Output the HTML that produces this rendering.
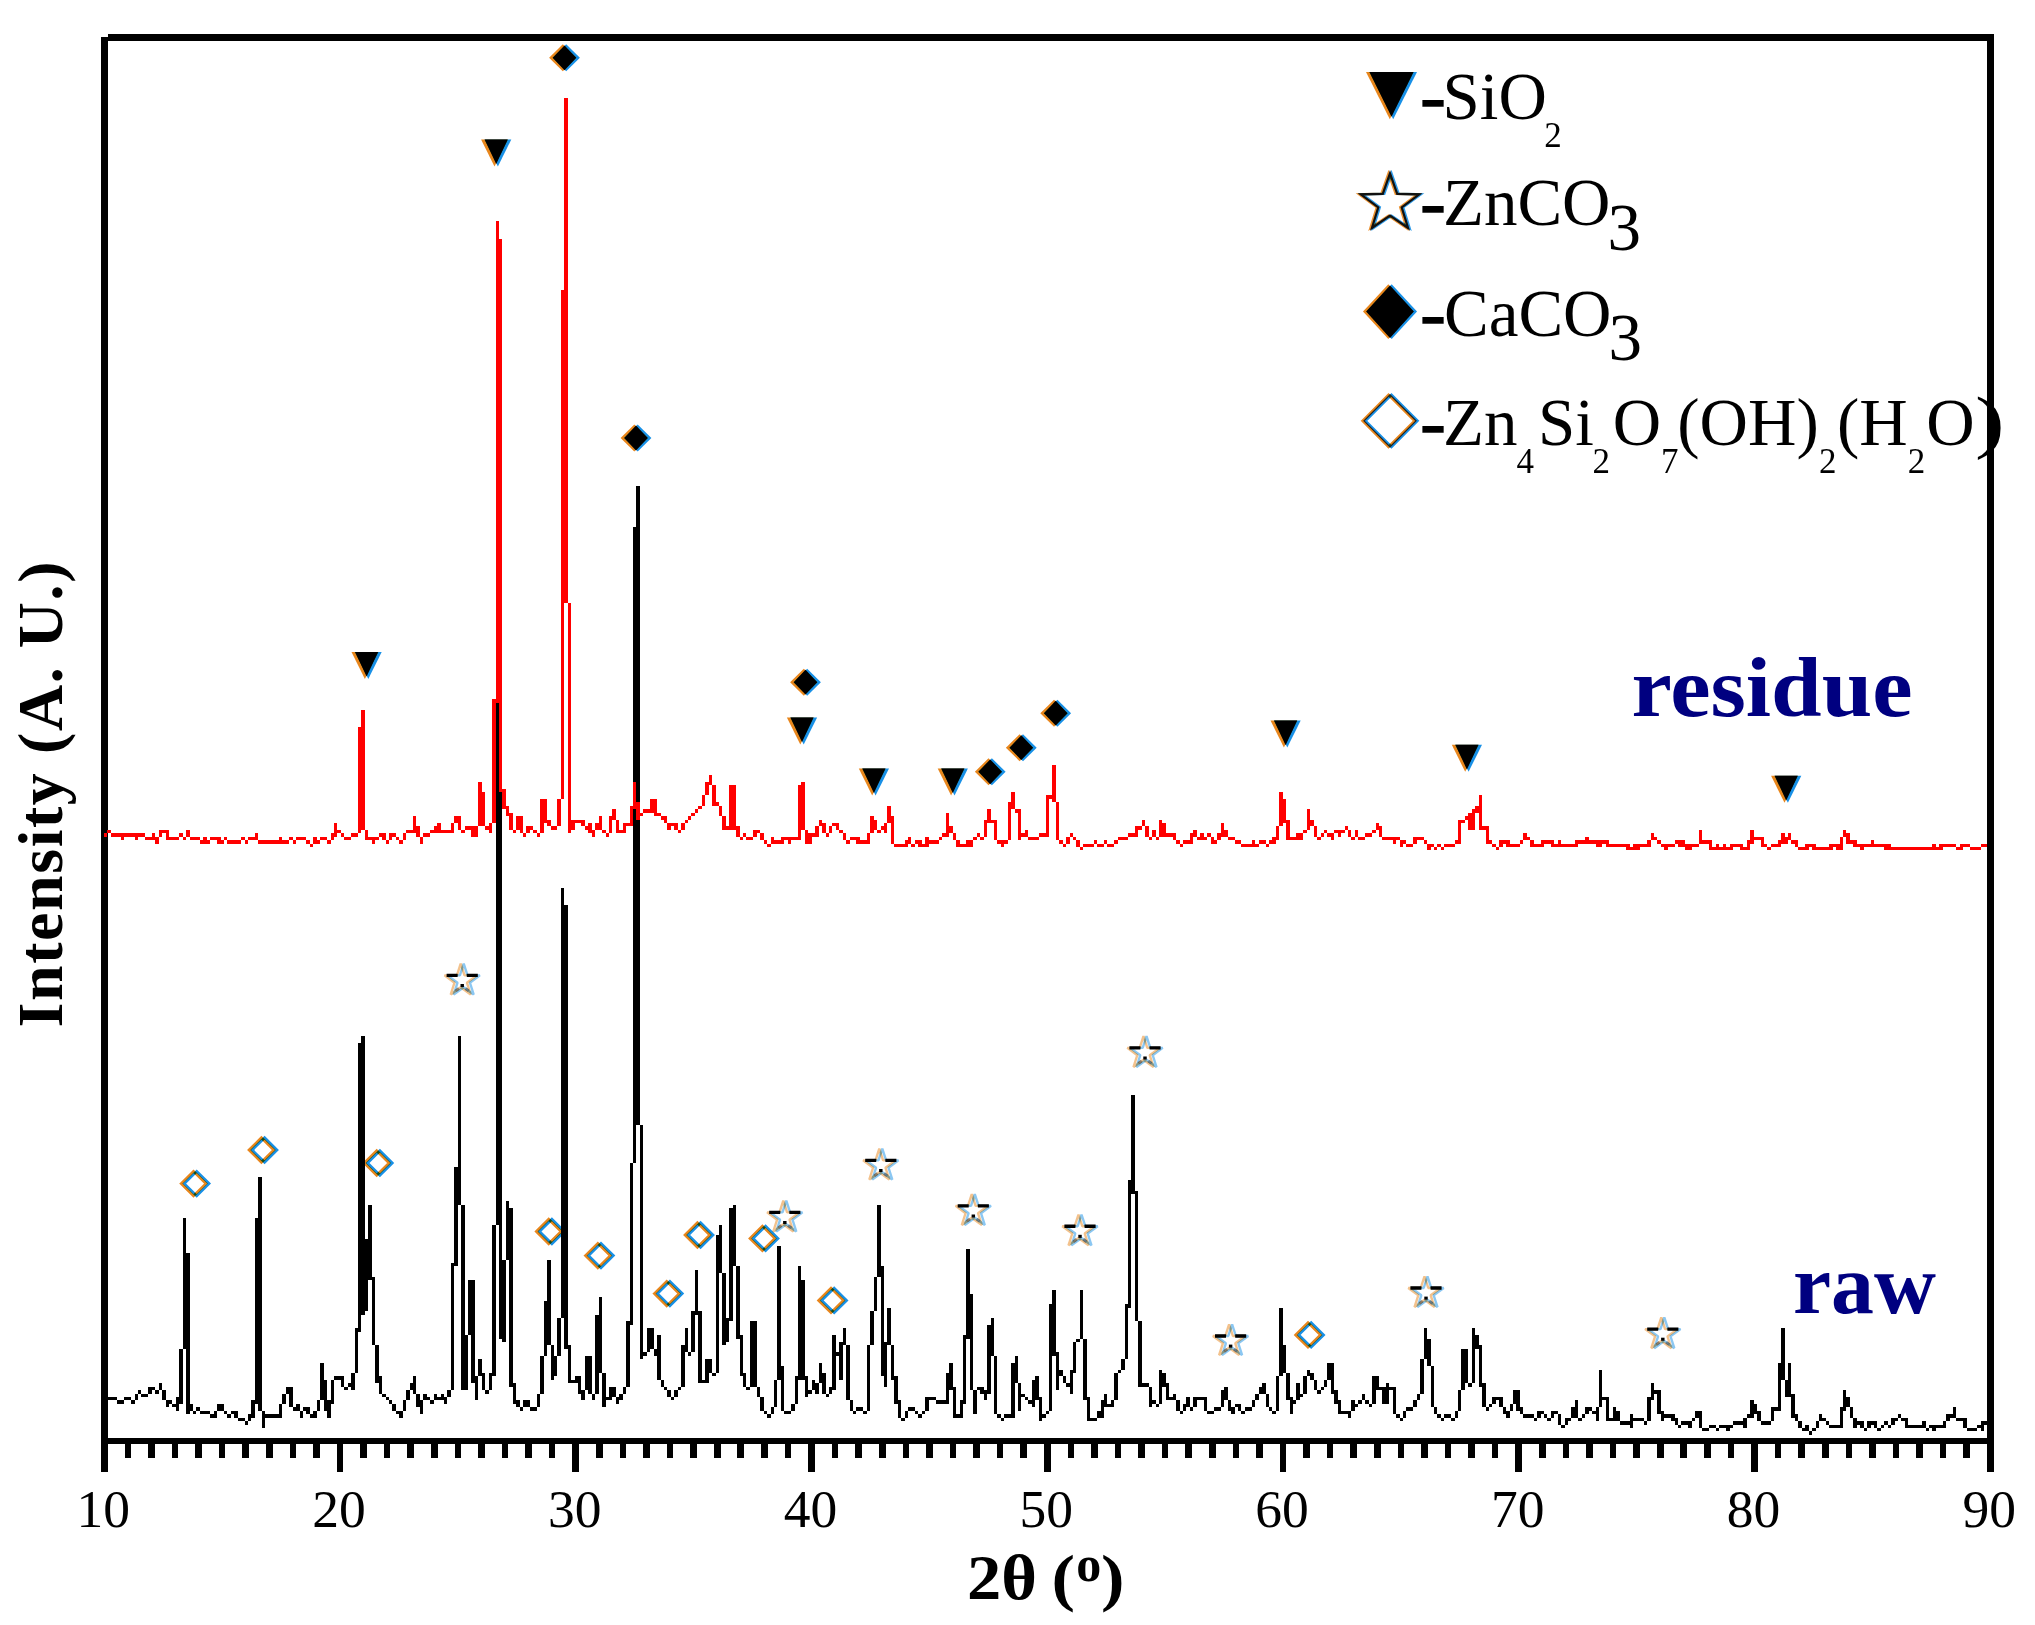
<!DOCTYPE html>
<html lang="en"><head><meta charset="utf-8"><title>XRD patterns: raw and residue</title>
<style>html,body{margin:0;padding:0;background:#fff}body{width:2035px;height:1625px;overflow:hidden}svg{display:block}text{font-family:"Liberation Serif",serif}.tk{font-size:53.5px;text-anchor:middle}.lg{font-size:67px}.sb{font-size:35px}.ax{font-size:64px;font-weight:bold}.nm{font-size:84px;font-weight:bold;fill:#000080}</style></head><body>
<svg width="2035" height="1625" viewBox="0 0 2035 1625">
<rect width="2035" height="1625" fill="#fff"/>
<g style="mix-blend-mode:multiply"><polygon fill="#e8861c" points="1366.0,72.0 1413.6,72.0 1389.8,119.2"/></g><g style="mix-blend-mode:multiply"><polygon fill="#1890e6" points="1369.4,72.0 1417.0,72.0 1393.2,119.2"/></g><polygon fill="#000" points="1369.5,72.0 1413.5,72.0 1391.5,116.8"/>
<g style="mix-blend-mode:multiply"><polygon fill="none" stroke-width="2.40" stroke-opacity="0.90" stroke-linejoin="miter" stroke="#e8861c" points="1388.5,173.4 1395.7,193.8 1417.8,194.3 1400.2,207.3 1406.6,228.0 1388.5,215.7 1370.4,228.0 1376.8,207.3 1359.2,194.3 1381.3,193.8"/></g><g style="mix-blend-mode:multiply"><polygon fill="none" stroke-width="2.40" stroke-opacity="0.90" stroke-linejoin="miter" stroke="#1890e6" points="1391.5,173.4 1398.7,193.8 1420.8,194.3 1403.2,207.3 1409.6,228.0 1391.5,215.7 1373.4,228.0 1379.8,207.3 1362.2,194.3 1384.3,193.8"/></g><polygon fill="none" stroke="#111" stroke-width="2.2" points="1390.0,173.4 1397.2,193.8 1419.3,194.3 1401.7,207.3 1408.1,228.0 1390.0,215.7 1371.9,228.0 1378.3,207.3 1360.7,194.3 1382.8,193.8"/>
<g style="mix-blend-mode:multiply"><polygon fill="#e8861c" points="1363.0,311.6 1388.3,284.2 1413.6,311.6 1388.3,339.0"/></g><g style="mix-blend-mode:multiply"><polygon fill="#1890e6" points="1366.4,311.6 1391.7,284.2 1417.0,311.6 1391.7,339.0"/></g><polygon fill="#000" points="1366.2,311.6 1390.0,285.4 1413.8,311.6 1390.0,337.9"/>
<g style="mix-blend-mode:multiply"><polygon fill="none" stroke-width="2.60" stroke-opacity="1.00" stroke-linejoin="miter" stroke="#e8861c" points="1362.5,420.8 1388.5,394.8 1414.5,420.8 1388.5,446.8"/></g><g style="mix-blend-mode:multiply"><polygon fill="none" stroke-width="2.60" stroke-opacity="1.00" stroke-linejoin="miter" stroke="#1890e6" points="1365.5,420.8 1391.5,394.8 1417.5,420.8 1391.5,446.8"/></g><polygon fill="none" stroke="#222" stroke-width="1.2" points="1364.0,420.8 1390.0,394.8 1416.0,420.8 1390.0,446.8"/>
<g fill="#000">
<text class="lg" x="1420.5" y="119.2" stroke="#000" stroke-width="1.6" textLength="25" lengthAdjust="spacingAndGlyphs">-</text><text class="lg" x="1442.5" y="119.2">SiO</text><text class="sb" x="1544.2" y="146.7">2</text>
<text class="lg" x="1420.5" y="225.3" stroke="#000" stroke-width="1.6" textLength="25" lengthAdjust="spacingAndGlyphs">-</text><text class="lg" x="1443" y="225.3">ZnCO</text><text class="lg" x="1607.5" y="249.7">3</text>
<text class="lg" x="1420.5" y="335.5" stroke="#000" stroke-width="1.6" textLength="25" lengthAdjust="spacingAndGlyphs">-</text><text class="lg" x="1444" y="335.5">CaCO</text><text class="lg" x="1608.5" y="360.2">3</text>
<text class="lg" x="1420.5" y="445.1" stroke="#000" stroke-width="1.6" textLength="25" lengthAdjust="spacingAndGlyphs">-</text><text class="lg" x="1443" y="445.1">Zn</text><text class="sb" x="1516.5" y="472.5">4</text>
<text class="lg" x="1538" y="445.1">Si</text><text class="sb" x="1592.5" y="472.5">2</text>
<text class="lg" x="1612.7" y="445.1">O</text><text class="sb" x="1661" y="472.5">7</text>
<text class="lg" x="1677.3" y="445.1">(OH)</text><text class="sb" x="1819" y="472.5">2</text>
<text class="lg" x="1837" y="445.1">(H</text><text class="sb" x="1907.8" y="472.5">2</text>
<text class="lg" x="1926.3" y="445.1">O</text>
<text class="lg" transform="translate(1975,445.1) scale(1.32,1.04)" x="0" y="0">)</text>
</g>
<text class="nm" x="1631.5" y="715.8" textLength="281" lengthAdjust="spacingAndGlyphs">residue</text>
<text class="nm" x="1793" y="1313.4" textLength="143" lengthAdjust="spacingAndGlyphs">raw</text>
<g fill="#000" shape-rendering="crispEdges">
<rect x="100.9" y="37.2" width="6.7" height="1434.6"/>
<rect x="107.6" y="34" width="1886" height="6.7"/>
<rect x="1986.9" y="34" width="6.7" height="1437.8"/>
<rect x="100.9" y="1437.6" width="1892.7" height="6.6"/>
<rect x="124.53" y="1440" width="6.6" height="17.8"/>
<rect x="148.10" y="1440" width="6.6" height="17.8"/>
<rect x="171.67" y="1440" width="6.6" height="17.8"/>
<rect x="195.25" y="1440" width="6.6" height="17.8"/>
<rect x="218.82" y="1440" width="6.6" height="17.8"/>
<rect x="242.40" y="1440" width="6.6" height="17.8"/>
<rect x="265.97" y="1440" width="6.6" height="17.8"/>
<rect x="289.55" y="1440" width="6.6" height="17.8"/>
<rect x="313.12" y="1440" width="6.6" height="17.8"/>
<rect x="336.65" y="1440" width="6.7" height="31.8"/>
<rect x="360.27" y="1440" width="6.6" height="17.8"/>
<rect x="383.85" y="1440" width="6.6" height="17.8"/>
<rect x="407.42" y="1440" width="6.6" height="17.8"/>
<rect x="431.00" y="1440" width="6.6" height="17.8"/>
<rect x="454.57" y="1440" width="6.6" height="17.8"/>
<rect x="478.15" y="1440" width="6.6" height="17.8"/>
<rect x="501.72" y="1440" width="6.6" height="17.8"/>
<rect x="525.30" y="1440" width="6.6" height="17.8"/>
<rect x="548.88" y="1440" width="6.6" height="17.8"/>
<rect x="572.40" y="1440" width="6.7" height="31.8"/>
<rect x="596.03" y="1440" width="6.6" height="17.8"/>
<rect x="619.60" y="1440" width="6.6" height="17.8"/>
<rect x="643.18" y="1440" width="6.6" height="17.8"/>
<rect x="666.75" y="1440" width="6.6" height="17.8"/>
<rect x="690.33" y="1440" width="6.6" height="17.8"/>
<rect x="713.90" y="1440" width="6.6" height="17.8"/>
<rect x="737.48" y="1440" width="6.6" height="17.8"/>
<rect x="761.05" y="1440" width="6.6" height="17.8"/>
<rect x="784.62" y="1440" width="6.6" height="17.8"/>
<rect x="808.15" y="1440" width="6.7" height="31.8"/>
<rect x="831.77" y="1440" width="6.6" height="17.8"/>
<rect x="855.35" y="1440" width="6.6" height="17.8"/>
<rect x="878.93" y="1440" width="6.6" height="17.8"/>
<rect x="902.50" y="1440" width="6.6" height="17.8"/>
<rect x="926.08" y="1440" width="6.6" height="17.8"/>
<rect x="949.65" y="1440" width="6.6" height="17.8"/>
<rect x="973.23" y="1440" width="6.6" height="17.8"/>
<rect x="996.80" y="1440" width="6.6" height="17.8"/>
<rect x="1020.38" y="1440" width="6.6" height="17.8"/>
<rect x="1043.90" y="1440" width="6.7" height="31.8"/>
<rect x="1067.52" y="1440" width="6.6" height="17.8"/>
<rect x="1091.10" y="1440" width="6.6" height="17.8"/>
<rect x="1114.67" y="1440" width="6.6" height="17.8"/>
<rect x="1138.25" y="1440" width="6.6" height="17.8"/>
<rect x="1161.83" y="1440" width="6.6" height="17.8"/>
<rect x="1185.40" y="1440" width="6.6" height="17.8"/>
<rect x="1208.97" y="1440" width="6.6" height="17.8"/>
<rect x="1232.55" y="1440" width="6.6" height="17.8"/>
<rect x="1256.12" y="1440" width="6.6" height="17.8"/>
<rect x="1279.65" y="1440" width="6.7" height="31.8"/>
<rect x="1303.28" y="1440" width="6.6" height="17.8"/>
<rect x="1326.85" y="1440" width="6.6" height="17.8"/>
<rect x="1350.42" y="1440" width="6.6" height="17.8"/>
<rect x="1374.00" y="1440" width="6.6" height="17.8"/>
<rect x="1397.58" y="1440" width="6.6" height="17.8"/>
<rect x="1421.15" y="1440" width="6.6" height="17.8"/>
<rect x="1444.72" y="1440" width="6.6" height="17.8"/>
<rect x="1468.30" y="1440" width="6.6" height="17.8"/>
<rect x="1491.88" y="1440" width="6.6" height="17.8"/>
<rect x="1515.40" y="1440" width="6.7" height="31.8"/>
<rect x="1539.03" y="1440" width="6.6" height="17.8"/>
<rect x="1562.60" y="1440" width="6.6" height="17.8"/>
<rect x="1586.17" y="1440" width="6.6" height="17.8"/>
<rect x="1609.75" y="1440" width="6.6" height="17.8"/>
<rect x="1633.33" y="1440" width="6.6" height="17.8"/>
<rect x="1656.90" y="1440" width="6.6" height="17.8"/>
<rect x="1680.47" y="1440" width="6.6" height="17.8"/>
<rect x="1704.05" y="1440" width="6.6" height="17.8"/>
<rect x="1727.62" y="1440" width="6.6" height="17.8"/>
<rect x="1751.15" y="1440" width="6.7" height="31.8"/>
<rect x="1774.78" y="1440" width="6.6" height="17.8"/>
<rect x="1798.35" y="1440" width="6.6" height="17.8"/>
<rect x="1821.92" y="1440" width="6.6" height="17.8"/>
<rect x="1845.50" y="1440" width="6.6" height="17.8"/>
<rect x="1869.08" y="1440" width="6.6" height="17.8"/>
<rect x="1892.65" y="1440" width="6.6" height="17.8"/>
<rect x="1916.22" y="1440" width="6.6" height="17.8"/>
<rect x="1939.80" y="1440" width="6.6" height="17.8"/>
<rect x="1963.38" y="1440" width="6.6" height="17.8"/>
</g>
<path shape-rendering="crispEdges" fill="#000" d="M103.62 1397.03h3.44v3.44h-3.44zM107.06 1397.03h3.44v3.44h-3.44zM110.50 1397.03h3.44v3.44h-3.44zM113.94 1397.03h3.44v3.44h-3.44zM117.38 1400.46h3.44v3.44h-3.44zM120.81 1400.46h3.44v3.44h-3.44zM124.25 1397.03h3.44v3.44h-3.44zM127.69 1397.03h3.44v3.44h-3.44zM131.12 1400.46h3.44v3.44h-3.44zM134.56 1393.59h3.44v6.88h-3.44zM138.00 1390.15h3.44v3.44h-3.44zM141.44 1393.59h3.44v3.44h-3.44zM144.88 1393.59h3.44v3.44h-3.44zM148.31 1386.71h3.44v6.88h-3.44zM151.75 1386.71h3.44v3.44h-3.44zM155.19 1390.15h3.44v3.44h-3.44zM158.62 1383.28h3.44v6.88h-3.44zM162.06 1390.15h3.44v10.31h-3.44zM165.50 1400.46h3.44v6.88h-3.44zM168.94 1400.46h3.44v3.44h-3.44zM172.38 1403.90h3.44v3.44h-3.44zM175.81 1397.03h3.44v13.75h-3.44zM179.25 1348.90h3.44v55.00h-3.44zM182.69 1218.28h3.44v130.62h-3.44zM186.12 1252.65h3.44v161.56h-3.44zM189.56 1403.90h3.44v6.88h-3.44zM193.00 1410.78h3.44v3.44h-3.44zM196.44 1407.34h3.44v3.44h-3.44zM199.88 1410.78h3.44v3.44h-3.44zM203.31 1410.78h3.44v3.44h-3.44zM206.75 1410.78h3.44v3.44h-3.44zM210.19 1414.21h3.44v3.44h-3.44zM213.62 1410.78h3.44v6.88h-3.44zM217.06 1403.90h3.44v6.88h-3.44zM220.50 1403.90h3.44v6.88h-3.44zM223.94 1410.78h3.44v3.44h-3.44zM227.38 1414.21h3.44v3.44h-3.44zM230.81 1410.78h3.44v3.44h-3.44zM234.25 1410.78h3.44v6.88h-3.44zM237.69 1417.65h3.44v3.44h-3.44zM241.12 1417.65h3.44v3.44h-3.44zM244.56 1421.09h3.44v3.44h-3.44zM248.00 1414.21h3.44v6.88h-3.44zM251.44 1400.46h3.44v17.19h-3.44zM254.88 1218.28h3.44v185.62h-3.44zM258.31 1177.03h3.44v233.75h-3.44zM261.75 1410.78h3.44v17.19h-3.44zM265.19 1414.21h3.44v3.44h-3.44zM268.62 1414.21h3.44v3.44h-3.44zM272.06 1414.21h3.44v3.44h-3.44zM275.50 1414.21h3.44v3.44h-3.44zM278.94 1403.90h3.44v13.75h-3.44zM282.38 1393.59h3.44v10.31h-3.44zM285.81 1386.71h3.44v6.88h-3.44zM289.25 1386.71h3.44v20.62h-3.44zM292.69 1407.34h3.44v3.44h-3.44zM296.12 1403.90h3.44v6.88h-3.44zM299.56 1410.78h3.44v6.88h-3.44zM303.00 1407.34h3.44v3.44h-3.44zM306.44 1407.34h3.44v6.88h-3.44zM309.88 1414.21h3.44v3.44h-3.44zM313.31 1410.78h3.44v6.88h-3.44zM316.75 1400.46h3.44v10.31h-3.44zM320.19 1362.65h3.44v37.81h-3.44zM323.62 1379.84h3.44v30.94h-3.44zM327.06 1400.46h3.44v17.19h-3.44zM330.50 1379.84h3.44v24.06h-3.44zM333.94 1376.40h3.44v3.44h-3.44zM337.38 1376.40h3.44v3.44h-3.44zM340.81 1376.40h3.44v10.31h-3.44zM344.25 1386.71h3.44v3.44h-3.44zM347.69 1383.28h3.44v3.44h-3.44zM351.12 1372.96h3.44v17.19h-3.44zM354.56 1328.28h3.44v44.69h-3.44zM358.00 1042.96h3.44v288.75h-3.44zM361.44 1036.09h3.44v278.44h-3.44zM364.88 1238.90h3.44v72.19h-3.44zM368.31 1204.53h3.44v75.62h-3.44zM371.75 1276.71h3.44v68.75h-3.44zM375.19 1345.46h3.44v37.81h-3.44zM378.62 1376.40h3.44v17.19h-3.44zM382.06 1393.59h3.44v3.44h-3.44zM385.50 1397.03h3.44v3.44h-3.44zM388.94 1400.46h3.44v3.44h-3.44zM392.38 1403.90h3.44v6.88h-3.44zM395.81 1410.78h3.44v3.44h-3.44zM399.25 1410.78h3.44v6.88h-3.44zM402.69 1400.46h3.44v10.31h-3.44zM406.12 1390.15h3.44v10.31h-3.44zM409.56 1383.28h3.44v6.88h-3.44zM413.00 1376.40h3.44v17.19h-3.44zM416.44 1393.59h3.44v13.75h-3.44zM419.88 1400.46h3.44v13.75h-3.44zM423.31 1393.59h3.44v6.88h-3.44zM426.75 1397.03h3.44v3.44h-3.44zM430.19 1400.46h3.44v3.44h-3.44zM433.62 1393.59h3.44v6.88h-3.44zM437.06 1397.03h3.44v3.44h-3.44zM440.50 1393.59h3.44v6.88h-3.44zM443.94 1397.03h3.44v6.88h-3.44zM447.38 1390.15h3.44v6.88h-3.44zM450.81 1262.96h3.44v127.19h-3.44zM454.25 1166.71h3.44v99.69h-3.44zM457.69 1036.09h3.44v168.44h-3.44zM461.12 1204.53h3.44v185.62h-3.44zM464.56 1335.15h3.44v55.00h-3.44zM468.00 1280.15h3.44v55.00h-3.44zM471.44 1280.15h3.44v103.12h-3.44zM474.88 1376.40h3.44v24.06h-3.44zM478.31 1359.21h3.44v17.19h-3.44zM481.75 1372.96h3.44v17.19h-3.44zM485.19 1390.15h3.44v3.44h-3.44zM488.62 1372.96h3.44v17.19h-3.44zM492.06 1225.15h3.44v151.25h-3.44zM495.50 678.59h3.44v546.56h-3.44zM498.94 788.59h3.44v550.00h-3.44zM502.38 1259.53h3.44v82.50h-3.44zM505.81 1201.09h3.44v58.44h-3.44zM509.25 1207.96h3.44v178.75h-3.44zM512.69 1383.28h3.44v20.62h-3.44zM516.12 1400.46h3.44v6.88h-3.44zM519.56 1407.34h3.44v3.44h-3.44zM523.00 1400.46h3.44v6.88h-3.44zM526.44 1400.46h3.44v6.88h-3.44zM529.88 1407.34h3.44v3.44h-3.44zM533.31 1407.34h3.44v3.44h-3.44zM536.75 1393.59h3.44v13.75h-3.44zM540.19 1355.78h3.44v37.81h-3.44zM543.62 1300.78h3.44v55.00h-3.44zM547.06 1259.53h3.44v85.94h-3.44zM550.50 1345.46h3.44v34.38h-3.44zM553.94 1355.78h3.44v20.62h-3.44zM557.38 1317.96h3.44v37.81h-3.44zM560.81 888.27h3.44v429.69h-3.44zM564.25 905.46h3.44v443.44h-3.44zM567.69 1345.46h3.44v37.81h-3.44zM571.12 1379.84h3.44v3.44h-3.44zM574.56 1376.40h3.44v6.88h-3.44zM578.00 1376.40h3.44v17.19h-3.44zM581.44 1390.15h3.44v10.31h-3.44zM584.88 1355.78h3.44v34.38h-3.44zM588.31 1355.78h3.44v37.81h-3.44zM591.75 1393.59h3.44v6.88h-3.44zM595.19 1314.53h3.44v79.06h-3.44zM598.62 1297.34h3.44v75.62h-3.44zM602.06 1372.96h3.44v34.38h-3.44zM605.50 1397.03h3.44v3.44h-3.44zM608.94 1386.71h3.44v13.75h-3.44zM612.38 1386.71h3.44v10.31h-3.44zM615.81 1397.03h3.44v6.88h-3.44zM619.25 1393.59h3.44v6.88h-3.44zM622.69 1386.71h3.44v6.88h-3.44zM626.12 1321.40h3.44v65.31h-3.44zM629.56 1163.28h3.44v161.56h-3.44zM633.00 527.34h3.44v635.94h-3.44zM636.44 486.09h3.44v639.38h-3.44zM639.88 1125.46h3.44v233.75h-3.44zM643.31 1352.34h3.44v3.44h-3.44zM646.75 1328.28h3.44v24.06h-3.44zM650.19 1328.28h3.44v20.62h-3.44zM653.62 1348.90h3.44v6.88h-3.44zM657.06 1335.15h3.44v44.69h-3.44zM660.50 1379.84h3.44v6.88h-3.44zM663.94 1386.71h3.44v3.44h-3.44zM667.38 1390.15h3.44v6.88h-3.44zM670.81 1397.03h3.44v3.44h-3.44zM674.25 1390.15h3.44v6.88h-3.44zM677.69 1386.71h3.44v3.44h-3.44zM681.12 1345.46h3.44v41.25h-3.44zM684.56 1328.28h3.44v24.06h-3.44zM688.00 1352.34h3.44v3.44h-3.44zM691.44 1311.09h3.44v41.25h-3.44zM694.88 1269.84h3.44v44.69h-3.44zM698.31 1311.09h3.44v72.19h-3.44zM701.75 1379.84h3.44v3.44h-3.44zM705.19 1359.21h3.44v24.06h-3.44zM708.62 1359.21h3.44v13.75h-3.44zM712.06 1372.96h3.44v3.44h-3.44zM715.50 1235.46h3.44v137.50h-3.44zM718.94 1225.15h3.44v48.12h-3.44zM722.38 1273.28h3.44v72.19h-3.44zM725.81 1317.96h3.44v24.06h-3.44zM729.25 1207.96h3.44v113.44h-3.44zM732.69 1204.53h3.44v61.88h-3.44zM736.12 1266.40h3.44v72.19h-3.44zM739.56 1335.15h3.44v41.25h-3.44zM743.00 1372.96h3.44v13.75h-3.44zM746.44 1386.71h3.44v3.44h-3.44zM749.88 1321.40h3.44v65.31h-3.44zM753.31 1321.40h3.44v65.31h-3.44zM756.75 1386.71h3.44v10.31h-3.44zM760.19 1397.03h3.44v13.75h-3.44zM763.62 1410.78h3.44v3.44h-3.44zM767.06 1414.21h3.44v3.44h-3.44zM770.50 1407.34h3.44v6.88h-3.44zM773.94 1379.84h3.44v27.50h-3.44zM777.38 1245.78h3.44v134.06h-3.44zM780.81 1366.09h3.44v44.69h-3.44zM784.25 1410.78h3.44v3.44h-3.44zM787.69 1410.78h3.44v3.44h-3.44zM791.12 1403.90h3.44v6.88h-3.44zM794.56 1376.40h3.44v27.50h-3.44zM798.00 1266.40h3.44v113.44h-3.44zM801.44 1280.15h3.44v99.69h-3.44zM804.88 1376.40h3.44v20.62h-3.44zM808.31 1390.15h3.44v3.44h-3.44zM811.75 1379.84h3.44v10.31h-3.44zM815.19 1383.28h3.44v10.31h-3.44zM818.62 1362.65h3.44v20.62h-3.44zM822.06 1372.96h3.44v20.62h-3.44zM825.50 1393.59h3.44v3.44h-3.44zM828.94 1386.71h3.44v6.88h-3.44zM832.38 1335.15h3.44v55.00h-3.44zM835.81 1352.34h3.44v3.44h-3.44zM839.25 1342.03h3.44v37.81h-3.44zM842.69 1328.28h3.44v17.19h-3.44zM846.12 1345.46h3.44v55.00h-3.44zM849.56 1400.46h3.44v10.31h-3.44zM853.00 1410.78h3.44v3.44h-3.44zM856.44 1407.34h3.44v3.44h-3.44zM859.88 1407.34h3.44v3.44h-3.44zM863.31 1410.78h3.44v3.44h-3.44zM866.75 1345.46h3.44v65.31h-3.44zM870.19 1311.09h3.44v34.38h-3.44zM873.62 1276.71h3.44v34.38h-3.44zM877.06 1204.53h3.44v72.19h-3.44zM880.50 1266.40h3.44v110.00h-3.44zM883.94 1342.03h3.44v44.69h-3.44zM887.38 1307.65h3.44v37.81h-3.44zM890.81 1345.46h3.44v34.38h-3.44zM894.25 1376.40h3.44v27.50h-3.44zM897.69 1400.46h3.44v17.19h-3.44zM901.12 1417.65h3.44v3.44h-3.44zM904.56 1410.78h3.44v6.88h-3.44zM908.00 1407.34h3.44v3.44h-3.44zM911.44 1407.34h3.44v3.44h-3.44zM914.88 1410.78h3.44v3.44h-3.44zM918.31 1414.21h3.44v3.44h-3.44zM921.75 1410.78h3.44v3.44h-3.44zM925.19 1397.03h3.44v13.75h-3.44zM928.62 1397.03h3.44v3.44h-3.44zM932.06 1397.03h3.44v3.44h-3.44zM935.50 1400.46h3.44v3.44h-3.44zM938.94 1400.46h3.44v3.44h-3.44zM942.38 1400.46h3.44v3.44h-3.44zM945.81 1372.96h3.44v30.94h-3.44zM949.25 1362.65h3.44v27.50h-3.44zM952.69 1386.71h3.44v30.94h-3.44zM956.12 1414.21h3.44v3.44h-3.44zM959.56 1400.46h3.44v17.19h-3.44zM963.00 1335.15h3.44v68.75h-3.44zM966.44 1249.21h3.44v89.38h-3.44zM969.88 1293.90h3.44v96.25h-3.44zM973.31 1390.15h3.44v24.06h-3.44zM976.75 1386.71h3.44v3.44h-3.44zM980.19 1386.71h3.44v6.88h-3.44zM983.62 1390.15h3.44v10.31h-3.44zM987.06 1324.84h3.44v68.75h-3.44zM990.50 1317.96h3.44v37.81h-3.44zM993.94 1355.78h3.44v58.44h-3.44zM997.38 1414.21h3.44v3.44h-3.44zM1000.81 1417.65h3.44v3.44h-3.44zM1004.25 1414.21h3.44v3.44h-3.44zM1007.69 1414.21h3.44v3.44h-3.44zM1011.12 1362.65h3.44v55.00h-3.44zM1014.56 1355.78h3.44v27.50h-3.44zM1018.00 1383.28h3.44v27.50h-3.44zM1021.44 1393.59h3.44v3.44h-3.44zM1024.88 1397.03h3.44v3.44h-3.44zM1028.31 1400.46h3.44v3.44h-3.44zM1031.75 1379.84h3.44v27.50h-3.44zM1035.19 1376.40h3.44v24.06h-3.44zM1038.62 1397.03h3.44v24.06h-3.44zM1042.06 1414.21h3.44v3.44h-3.44zM1045.50 1410.78h3.44v3.44h-3.44zM1048.94 1304.21h3.44v106.56h-3.44zM1052.38 1290.46h3.44v65.31h-3.44zM1055.81 1352.34h3.44v37.81h-3.44zM1059.25 1369.53h3.44v6.88h-3.44zM1062.69 1376.40h3.44v6.88h-3.44zM1066.12 1383.28h3.44v3.44h-3.44zM1069.56 1369.53h3.44v24.06h-3.44zM1073.00 1342.03h3.44v30.94h-3.44zM1076.44 1338.59h3.44v3.44h-3.44zM1079.88 1290.46h3.44v48.12h-3.44zM1083.31 1338.59h3.44v61.88h-3.44zM1086.75 1397.03h3.44v24.06h-3.44zM1090.19 1417.65h3.44v3.44h-3.44zM1093.62 1417.65h3.44v3.44h-3.44zM1097.06 1410.78h3.44v6.88h-3.44zM1100.50 1400.46h3.44v17.19h-3.44zM1103.94 1393.59h3.44v13.75h-3.44zM1107.38 1403.90h3.44v3.44h-3.44zM1110.81 1400.46h3.44v6.88h-3.44zM1114.25 1372.96h3.44v27.50h-3.44zM1117.69 1369.53h3.44v3.44h-3.44zM1121.12 1359.21h3.44v10.31h-3.44zM1124.56 1304.21h3.44v55.00h-3.44zM1128.00 1180.46h3.44v127.19h-3.44zM1131.44 1094.53h3.44v99.69h-3.44zM1134.88 1190.78h3.44v130.62h-3.44zM1138.31 1321.40h3.44v65.31h-3.44zM1141.75 1383.28h3.44v3.44h-3.44zM1145.19 1383.28h3.44v3.44h-3.44zM1148.62 1386.71h3.44v20.62h-3.44zM1152.06 1400.46h3.44v3.44h-3.44zM1155.50 1403.90h3.44v3.44h-3.44zM1158.94 1369.53h3.44v34.38h-3.44zM1162.38 1372.96h3.44v13.75h-3.44zM1165.81 1383.28h3.44v17.19h-3.44zM1169.25 1397.03h3.44v3.44h-3.44zM1172.69 1393.59h3.44v6.88h-3.44zM1176.12 1400.46h3.44v10.31h-3.44zM1179.56 1410.78h3.44v3.44h-3.44zM1183.00 1403.90h3.44v6.88h-3.44zM1186.44 1397.03h3.44v10.31h-3.44zM1189.88 1407.34h3.44v3.44h-3.44zM1193.31 1397.03h3.44v10.31h-3.44zM1196.75 1397.03h3.44v3.44h-3.44zM1200.19 1397.03h3.44v3.44h-3.44zM1203.62 1397.03h3.44v13.75h-3.44zM1207.06 1410.78h3.44v3.44h-3.44zM1210.50 1410.78h3.44v3.44h-3.44zM1213.94 1407.34h3.44v3.44h-3.44zM1217.38 1407.34h3.44v3.44h-3.44zM1220.81 1390.15h3.44v17.19h-3.44zM1224.25 1386.71h3.44v13.75h-3.44zM1227.69 1400.46h3.44v10.31h-3.44zM1231.12 1407.34h3.44v6.88h-3.44zM1234.56 1403.90h3.44v3.44h-3.44zM1238.00 1403.90h3.44v6.88h-3.44zM1241.44 1410.78h3.44v3.44h-3.44zM1244.88 1407.34h3.44v3.44h-3.44zM1248.31 1407.34h3.44v3.44h-3.44zM1251.75 1400.46h3.44v6.88h-3.44zM1255.19 1393.59h3.44v6.88h-3.44zM1258.62 1386.71h3.44v6.88h-3.44zM1262.06 1383.28h3.44v10.31h-3.44zM1265.50 1393.59h3.44v13.75h-3.44zM1268.94 1407.34h3.44v3.44h-3.44zM1272.38 1410.78h3.44v3.44h-3.44zM1275.81 1376.40h3.44v34.38h-3.44zM1279.25 1307.65h3.44v68.75h-3.44zM1282.69 1345.46h3.44v27.50h-3.44zM1286.12 1372.96h3.44v27.50h-3.44zM1289.56 1397.03h3.44v17.19h-3.44zM1293.00 1400.46h3.44v3.44h-3.44zM1296.44 1383.28h3.44v17.19h-3.44zM1299.88 1393.59h3.44v3.44h-3.44zM1303.31 1376.40h3.44v17.19h-3.44zM1306.75 1369.53h3.44v6.88h-3.44zM1310.19 1372.96h3.44v6.88h-3.44zM1313.62 1379.84h3.44v10.31h-3.44zM1317.06 1390.15h3.44v3.44h-3.44zM1320.50 1386.71h3.44v3.44h-3.44zM1323.94 1379.84h3.44v6.88h-3.44zM1327.38 1362.65h3.44v17.19h-3.44zM1330.81 1362.65h3.44v30.94h-3.44zM1334.25 1390.15h3.44v13.75h-3.44zM1337.69 1400.46h3.44v13.75h-3.44zM1341.12 1410.78h3.44v3.44h-3.44zM1344.56 1410.78h3.44v3.44h-3.44zM1348.00 1410.78h3.44v6.88h-3.44zM1351.44 1400.46h3.44v10.31h-3.44zM1354.88 1403.90h3.44v3.44h-3.44zM1358.31 1400.46h3.44v3.44h-3.44zM1361.75 1393.59h3.44v6.88h-3.44zM1365.19 1400.46h3.44v3.44h-3.44zM1368.62 1403.90h3.44v3.44h-3.44zM1372.06 1376.40h3.44v27.50h-3.44zM1375.50 1376.40h3.44v13.75h-3.44zM1378.94 1386.71h3.44v3.44h-3.44zM1382.38 1386.71h3.44v17.19h-3.44zM1385.81 1383.28h3.44v20.62h-3.44zM1389.25 1386.71h3.44v3.44h-3.44zM1392.69 1386.71h3.44v27.50h-3.44zM1396.12 1414.21h3.44v3.44h-3.44zM1399.56 1417.65h3.44v3.44h-3.44zM1403.00 1410.78h3.44v6.88h-3.44zM1406.44 1407.34h3.44v3.44h-3.44zM1409.88 1407.34h3.44v3.44h-3.44zM1413.31 1400.46h3.44v6.88h-3.44zM1416.75 1393.59h3.44v6.88h-3.44zM1420.19 1359.21h3.44v34.38h-3.44zM1423.62 1328.28h3.44v30.94h-3.44zM1427.06 1338.59h3.44v27.50h-3.44zM1430.50 1366.09h3.44v41.25h-3.44zM1433.94 1407.34h3.44v6.88h-3.44zM1437.38 1414.21h3.44v3.44h-3.44zM1440.81 1417.65h3.44v3.44h-3.44zM1444.25 1414.21h3.44v3.44h-3.44zM1447.69 1414.21h3.44v3.44h-3.44zM1451.12 1417.65h3.44v3.44h-3.44zM1454.56 1410.78h3.44v6.88h-3.44zM1458.00 1390.15h3.44v20.62h-3.44zM1461.44 1348.90h3.44v41.25h-3.44zM1464.88 1348.90h3.44v34.38h-3.44zM1468.31 1383.28h3.44v3.44h-3.44zM1471.75 1328.28h3.44v55.00h-3.44zM1475.19 1335.15h3.44v13.75h-3.44zM1478.62 1345.46h3.44v41.25h-3.44zM1482.06 1383.28h3.44v24.06h-3.44zM1485.50 1407.34h3.44v3.44h-3.44zM1488.94 1403.90h3.44v3.44h-3.44zM1492.38 1397.03h3.44v6.88h-3.44zM1495.81 1397.03h3.44v3.44h-3.44zM1499.25 1397.03h3.44v10.31h-3.44zM1502.69 1407.34h3.44v6.88h-3.44zM1506.12 1410.78h3.44v6.88h-3.44zM1509.56 1403.90h3.44v6.88h-3.44zM1513.00 1390.15h3.44v13.75h-3.44zM1516.44 1390.15h3.44v20.62h-3.44zM1519.88 1407.34h3.44v6.88h-3.44zM1523.31 1414.21h3.44v3.44h-3.44zM1526.75 1414.21h3.44v3.44h-3.44zM1530.19 1414.21h3.44v3.44h-3.44zM1533.62 1417.65h3.44v3.44h-3.44zM1537.06 1410.78h3.44v6.88h-3.44zM1540.50 1410.78h3.44v3.44h-3.44zM1543.94 1414.21h3.44v3.44h-3.44zM1547.38 1417.65h3.44v3.44h-3.44zM1550.81 1410.78h3.44v6.88h-3.44zM1554.25 1410.78h3.44v3.44h-3.44zM1557.69 1414.21h3.44v10.31h-3.44zM1561.12 1424.53h3.44v3.44h-3.44zM1564.56 1417.65h3.44v6.88h-3.44zM1568.00 1417.65h3.44v3.44h-3.44zM1571.44 1407.34h3.44v10.31h-3.44zM1574.88 1400.46h3.44v17.19h-3.44zM1578.31 1417.65h3.44v3.44h-3.44zM1581.75 1414.21h3.44v3.44h-3.44zM1585.19 1407.34h3.44v6.88h-3.44zM1588.62 1407.34h3.44v3.44h-3.44zM1592.06 1410.78h3.44v3.44h-3.44zM1595.50 1407.34h3.44v13.75h-3.44zM1598.94 1369.53h3.44v37.81h-3.44zM1602.38 1397.03h3.44v3.44h-3.44zM1605.81 1397.03h3.44v24.06h-3.44zM1609.25 1417.65h3.44v3.44h-3.44zM1612.69 1407.34h3.44v13.75h-3.44zM1616.12 1410.78h3.44v10.31h-3.44zM1619.56 1421.09h3.44v3.44h-3.44zM1623.00 1421.09h3.44v3.44h-3.44zM1626.44 1421.09h3.44v3.44h-3.44zM1629.88 1414.21h3.44v13.75h-3.44zM1633.31 1417.65h3.44v3.44h-3.44zM1636.75 1417.65h3.44v3.44h-3.44zM1640.19 1417.65h3.44v3.44h-3.44zM1643.62 1421.09h3.44v3.44h-3.44zM1647.06 1397.03h3.44v24.06h-3.44zM1650.50 1383.28h3.44v17.19h-3.44zM1653.94 1390.15h3.44v3.44h-3.44zM1657.38 1390.15h3.44v24.06h-3.44zM1660.81 1410.78h3.44v10.31h-3.44zM1664.25 1414.21h3.44v3.44h-3.44zM1667.69 1414.21h3.44v3.44h-3.44zM1671.12 1414.21h3.44v6.88h-3.44zM1674.56 1417.65h3.44v6.88h-3.44zM1678.00 1424.53h3.44v3.44h-3.44zM1681.44 1421.09h3.44v3.44h-3.44zM1684.88 1421.09h3.44v3.44h-3.44zM1688.31 1421.09h3.44v6.88h-3.44zM1691.75 1417.65h3.44v3.44h-3.44zM1695.19 1410.78h3.44v6.88h-3.44zM1698.62 1410.78h3.44v17.19h-3.44zM1702.06 1427.96h3.44v3.44h-3.44zM1705.50 1427.96h3.44v3.44h-3.44zM1708.94 1424.53h3.44v3.44h-3.44zM1712.38 1424.53h3.44v3.44h-3.44zM1715.81 1427.96h3.44v3.44h-3.44zM1719.25 1424.53h3.44v3.44h-3.44zM1722.69 1424.53h3.44v3.44h-3.44zM1726.12 1424.53h3.44v6.88h-3.44zM1729.56 1424.53h3.44v3.44h-3.44zM1733.00 1421.09h3.44v3.44h-3.44zM1736.44 1421.09h3.44v3.44h-3.44zM1739.88 1421.09h3.44v3.44h-3.44zM1743.31 1417.65h3.44v10.31h-3.44zM1746.75 1414.21h3.44v3.44h-3.44zM1750.19 1400.46h3.44v17.19h-3.44zM1753.62 1403.90h3.44v10.31h-3.44zM1757.06 1410.78h3.44v10.31h-3.44zM1760.50 1421.09h3.44v3.44h-3.44zM1763.94 1421.09h3.44v3.44h-3.44zM1767.38 1421.09h3.44v3.44h-3.44zM1770.81 1407.34h3.44v13.75h-3.44zM1774.25 1407.34h3.44v3.44h-3.44zM1777.69 1362.65h3.44v48.12h-3.44zM1781.12 1328.28h3.44v51.56h-3.44zM1784.56 1379.84h3.44v17.19h-3.44zM1788.00 1362.65h3.44v34.38h-3.44zM1791.44 1393.59h3.44v24.06h-3.44zM1794.88 1414.21h3.44v6.88h-3.44zM1798.31 1421.09h3.44v6.88h-3.44zM1801.75 1427.96h3.44v3.44h-3.44zM1805.19 1424.53h3.44v6.88h-3.44zM1808.62 1431.40h3.44v3.44h-3.44zM1812.06 1427.96h3.44v3.44h-3.44zM1815.50 1421.09h3.44v6.88h-3.44zM1818.94 1414.21h3.44v6.88h-3.44zM1822.38 1417.65h3.44v3.44h-3.44zM1825.81 1421.09h3.44v3.44h-3.44zM1829.25 1424.53h3.44v3.44h-3.44zM1832.69 1424.53h3.44v3.44h-3.44zM1836.12 1424.53h3.44v3.44h-3.44zM1839.56 1407.34h3.44v20.62h-3.44zM1843.00 1390.15h3.44v20.62h-3.44zM1846.44 1397.03h3.44v10.31h-3.44zM1849.88 1407.34h3.44v10.31h-3.44zM1853.31 1417.65h3.44v10.31h-3.44zM1856.75 1421.09h3.44v3.44h-3.44zM1860.19 1421.09h3.44v6.88h-3.44zM1863.62 1427.96h3.44v3.44h-3.44zM1867.06 1421.09h3.44v6.88h-3.44zM1870.50 1421.09h3.44v3.44h-3.44zM1873.94 1421.09h3.44v6.88h-3.44zM1877.38 1427.96h3.44v3.44h-3.44zM1880.81 1424.53h3.44v3.44h-3.44zM1884.25 1421.09h3.44v3.44h-3.44zM1887.69 1424.53h3.44v3.44h-3.44zM1891.12 1417.65h3.44v6.88h-3.44zM1894.56 1417.65h3.44v3.44h-3.44zM1898.00 1414.21h3.44v3.44h-3.44zM1901.44 1417.65h3.44v3.44h-3.44zM1904.88 1417.65h3.44v10.31h-3.44zM1908.31 1424.53h3.44v3.44h-3.44zM1911.75 1424.53h3.44v3.44h-3.44zM1915.19 1424.53h3.44v3.44h-3.44zM1918.62 1424.53h3.44v3.44h-3.44zM1922.06 1421.09h3.44v6.88h-3.44zM1925.50 1427.96h3.44v3.44h-3.44zM1928.94 1424.53h3.44v3.44h-3.44zM1932.38 1424.53h3.44v6.88h-3.44zM1935.81 1424.53h3.44v3.44h-3.44zM1939.25 1424.53h3.44v3.44h-3.44zM1942.69 1421.09h3.44v6.88h-3.44zM1946.12 1414.21h3.44v6.88h-3.44zM1949.56 1414.21h3.44v3.44h-3.44zM1953.00 1407.34h3.44v10.31h-3.44zM1956.44 1417.65h3.44v3.44h-3.44zM1959.88 1417.65h3.44v3.44h-3.44zM1963.31 1417.65h3.44v10.31h-3.44zM1966.75 1427.96h3.44v3.44h-3.44zM1970.19 1427.96h3.44v3.44h-3.44zM1973.62 1427.96h3.44v3.44h-3.44zM1977.06 1424.53h3.44v3.44h-3.44zM1980.50 1421.09h3.44v10.31h-3.44zM1983.94 1421.09h3.44v3.44h-3.44z"/>
<path shape-rendering="crispEdges" fill="#f00" d="M103.62 833.27h3.44v3.44h-3.44zM107.06 829.84h3.44v3.44h-3.44zM110.50 833.27h3.44v3.44h-3.44zM113.94 833.27h3.44v3.44h-3.44zM117.38 833.27h3.44v3.44h-3.44zM120.81 833.27h3.44v6.88h-3.44zM124.25 833.27h3.44v3.44h-3.44zM127.69 833.27h3.44v3.44h-3.44zM131.12 833.27h3.44v3.44h-3.44zM134.56 833.27h3.44v6.88h-3.44zM138.00 833.27h3.44v3.44h-3.44zM141.44 833.27h3.44v3.44h-3.44zM144.88 836.71h3.44v3.44h-3.44zM148.31 836.71h3.44v3.44h-3.44zM151.75 833.27h3.44v6.88h-3.44zM155.19 836.71h3.44v6.88h-3.44zM158.62 829.84h3.44v6.88h-3.44zM162.06 829.84h3.44v3.44h-3.44zM165.50 829.84h3.44v10.31h-3.44zM168.94 836.71h3.44v3.44h-3.44zM172.38 836.71h3.44v3.44h-3.44zM175.81 836.71h3.44v3.44h-3.44zM179.25 833.27h3.44v3.44h-3.44zM182.69 836.71h3.44v3.44h-3.44zM186.12 829.84h3.44v6.88h-3.44zM189.56 836.71h3.44v3.44h-3.44zM193.00 836.71h3.44v3.44h-3.44zM196.44 836.71h3.44v3.44h-3.44zM199.88 840.15h3.44v3.44h-3.44zM203.31 836.71h3.44v6.88h-3.44zM206.75 840.15h3.44v3.44h-3.44zM210.19 836.71h3.44v3.44h-3.44zM213.62 836.71h3.44v3.44h-3.44zM217.06 836.71h3.44v6.88h-3.44zM220.50 840.15h3.44v3.44h-3.44zM223.94 836.71h3.44v3.44h-3.44zM227.38 840.15h3.44v3.44h-3.44zM230.81 840.15h3.44v3.44h-3.44zM234.25 840.15h3.44v3.44h-3.44zM237.69 840.15h3.44v3.44h-3.44zM241.12 836.71h3.44v3.44h-3.44zM244.56 840.15h3.44v3.44h-3.44zM248.00 836.71h3.44v3.44h-3.44zM251.44 836.71h3.44v3.44h-3.44zM254.88 833.27h3.44v6.88h-3.44zM258.31 840.15h3.44v3.44h-3.44zM261.75 840.15h3.44v3.44h-3.44zM265.19 840.15h3.44v3.44h-3.44zM268.62 840.15h3.44v3.44h-3.44zM272.06 840.15h3.44v3.44h-3.44zM275.50 840.15h3.44v3.44h-3.44zM278.94 836.71h3.44v6.88h-3.44zM282.38 840.15h3.44v3.44h-3.44zM285.81 840.15h3.44v3.44h-3.44zM289.25 836.71h3.44v3.44h-3.44zM292.69 840.15h3.44v3.44h-3.44zM296.12 836.71h3.44v3.44h-3.44zM299.56 836.71h3.44v3.44h-3.44zM303.00 836.71h3.44v3.44h-3.44zM306.44 840.15h3.44v3.44h-3.44zM309.88 843.59h3.44v3.44h-3.44zM313.31 836.71h3.44v6.88h-3.44zM316.75 840.15h3.44v3.44h-3.44zM320.19 836.71h3.44v3.44h-3.44zM323.62 836.71h3.44v3.44h-3.44zM327.06 840.15h3.44v3.44h-3.44zM330.50 833.27h3.44v6.88h-3.44zM333.94 822.96h3.44v13.75h-3.44zM337.38 829.84h3.44v3.44h-3.44zM340.81 833.27h3.44v3.44h-3.44zM344.25 836.71h3.44v3.44h-3.44zM347.69 836.71h3.44v3.44h-3.44zM351.12 833.27h3.44v3.44h-3.44zM354.56 833.27h3.44v3.44h-3.44zM358.00 726.71h3.44v106.56h-3.44zM361.44 709.52h3.44v120.31h-3.44zM364.88 829.84h3.44v10.31h-3.44zM368.31 836.71h3.44v3.44h-3.44zM371.75 836.71h3.44v6.88h-3.44zM375.19 836.71h3.44v3.44h-3.44zM378.62 833.27h3.44v3.44h-3.44zM382.06 833.27h3.44v6.88h-3.44zM385.50 840.15h3.44v3.44h-3.44zM388.94 833.27h3.44v6.88h-3.44zM392.38 833.27h3.44v3.44h-3.44zM395.81 836.71h3.44v3.44h-3.44zM399.25 840.15h3.44v3.44h-3.44zM402.69 833.27h3.44v6.88h-3.44zM406.12 829.84h3.44v3.44h-3.44zM409.56 829.84h3.44v3.44h-3.44zM413.00 816.09h3.44v17.19h-3.44zM416.44 826.40h3.44v10.31h-3.44zM419.88 836.71h3.44v6.88h-3.44zM423.31 833.27h3.44v3.44h-3.44zM426.75 833.27h3.44v3.44h-3.44zM430.19 829.84h3.44v3.44h-3.44zM433.62 826.40h3.44v6.88h-3.44zM437.06 822.96h3.44v10.31h-3.44zM440.50 829.84h3.44v3.44h-3.44zM443.94 829.84h3.44v3.44h-3.44zM447.38 829.84h3.44v3.44h-3.44zM450.81 822.96h3.44v10.31h-3.44zM454.25 816.09h3.44v6.88h-3.44zM457.69 816.09h3.44v13.75h-3.44zM461.12 829.84h3.44v3.44h-3.44zM464.56 826.40h3.44v3.44h-3.44zM468.00 826.40h3.44v3.44h-3.44zM471.44 826.40h3.44v10.31h-3.44zM474.88 826.40h3.44v10.31h-3.44zM478.31 781.71h3.44v44.69h-3.44zM481.75 792.02h3.44v34.38h-3.44zM485.19 826.40h3.44v3.44h-3.44zM488.62 822.96h3.44v10.31h-3.44zM492.06 699.21h3.44v123.75h-3.44zM495.50 221.40h3.44v481.25h-3.44zM498.94 238.59h3.44v553.44h-3.44zM502.38 788.59h3.44v20.62h-3.44zM505.81 805.77h3.44v10.31h-3.44zM509.25 812.65h3.44v17.19h-3.44zM512.69 829.84h3.44v3.44h-3.44zM516.12 816.09h3.44v13.75h-3.44zM519.56 816.09h3.44v17.19h-3.44zM523.00 833.27h3.44v3.44h-3.44zM526.44 826.40h3.44v6.88h-3.44zM529.88 826.40h3.44v3.44h-3.44zM533.31 829.84h3.44v3.44h-3.44zM536.75 833.27h3.44v3.44h-3.44zM540.19 798.90h3.44v34.38h-3.44zM543.62 798.90h3.44v24.06h-3.44zM547.06 819.52h3.44v6.88h-3.44zM550.50 826.40h3.44v3.44h-3.44zM553.94 826.40h3.44v3.44h-3.44zM557.38 798.90h3.44v27.50h-3.44zM560.81 290.15h3.44v508.75h-3.44zM564.25 97.65h3.44v505.31h-3.44zM567.69 602.96h3.44v230.31h-3.44zM571.12 819.52h3.44v10.31h-3.44zM574.56 819.52h3.44v3.44h-3.44zM578.00 819.52h3.44v3.44h-3.44zM581.44 819.52h3.44v6.88h-3.44zM584.88 826.40h3.44v3.44h-3.44zM588.31 822.96h3.44v10.31h-3.44zM591.75 829.84h3.44v6.88h-3.44zM595.19 822.96h3.44v6.88h-3.44zM598.62 816.09h3.44v13.75h-3.44zM602.06 829.84h3.44v3.44h-3.44zM605.50 833.27h3.44v3.44h-3.44zM608.94 816.09h3.44v17.19h-3.44zM612.38 809.21h3.44v10.31h-3.44zM615.81 819.52h3.44v13.75h-3.44zM619.25 829.84h3.44v3.44h-3.44zM622.69 822.96h3.44v10.31h-3.44zM626.12 822.96h3.44v3.44h-3.44zM629.56 805.77h3.44v20.62h-3.44zM633.00 781.71h3.44v27.50h-3.44zM636.44 802.34h3.44v17.19h-3.44zM639.88 812.65h3.44v3.44h-3.44zM643.31 809.21h3.44v3.44h-3.44zM646.75 809.21h3.44v3.44h-3.44zM650.19 798.90h3.44v13.75h-3.44zM653.62 798.90h3.44v17.19h-3.44zM657.06 812.65h3.44v3.44h-3.44zM660.50 816.09h3.44v3.44h-3.44zM663.94 816.09h3.44v6.88h-3.44zM667.38 822.96h3.44v6.88h-3.44zM670.81 822.96h3.44v3.44h-3.44zM674.25 822.96h3.44v6.88h-3.44zM677.69 829.84h3.44v3.44h-3.44zM681.12 822.96h3.44v6.88h-3.44zM684.56 819.52h3.44v3.44h-3.44zM688.00 816.09h3.44v3.44h-3.44zM691.44 812.65h3.44v3.44h-3.44zM694.88 809.21h3.44v3.44h-3.44zM698.31 805.77h3.44v3.44h-3.44zM701.75 795.46h3.44v10.31h-3.44zM705.19 781.71h3.44v13.75h-3.44zM708.62 774.84h3.44v10.31h-3.44zM712.06 785.15h3.44v20.62h-3.44zM715.50 802.34h3.44v3.44h-3.44zM718.94 805.77h3.44v10.31h-3.44zM722.38 816.09h3.44v13.75h-3.44zM725.81 826.40h3.44v3.44h-3.44zM729.25 785.15h3.44v44.69h-3.44zM732.69 785.15h3.44v44.69h-3.44zM736.12 826.40h3.44v10.31h-3.44zM739.56 836.71h3.44v3.44h-3.44zM743.00 833.27h3.44v3.44h-3.44zM746.44 836.71h3.44v3.44h-3.44zM749.88 836.71h3.44v3.44h-3.44zM753.31 829.84h3.44v6.88h-3.44zM756.75 829.84h3.44v3.44h-3.44zM760.19 833.27h3.44v6.88h-3.44zM763.62 840.15h3.44v3.44h-3.44zM767.06 843.59h3.44v3.44h-3.44zM770.50 836.71h3.44v6.88h-3.44zM773.94 840.15h3.44v3.44h-3.44zM777.38 840.15h3.44v3.44h-3.44zM780.81 836.71h3.44v6.88h-3.44zM784.25 836.71h3.44v3.44h-3.44zM787.69 836.71h3.44v6.88h-3.44zM791.12 836.71h3.44v3.44h-3.44zM794.56 836.71h3.44v3.44h-3.44zM798.00 785.15h3.44v55.00h-3.44zM801.44 781.71h3.44v48.12h-3.44zM804.88 829.84h3.44v13.75h-3.44zM808.31 833.27h3.44v10.31h-3.44zM811.75 833.27h3.44v3.44h-3.44zM815.19 826.40h3.44v10.31h-3.44zM818.62 819.52h3.44v6.88h-3.44zM822.06 822.96h3.44v10.31h-3.44zM825.50 833.27h3.44v3.44h-3.44zM828.94 826.40h3.44v6.88h-3.44zM832.38 822.96h3.44v3.44h-3.44zM835.81 822.96h3.44v6.88h-3.44zM839.25 829.84h3.44v3.44h-3.44zM842.69 833.27h3.44v6.88h-3.44zM846.12 840.15h3.44v3.44h-3.44zM849.56 836.71h3.44v3.44h-3.44zM853.00 836.71h3.44v3.44h-3.44zM856.44 836.71h3.44v6.88h-3.44zM859.88 840.15h3.44v3.44h-3.44zM863.31 840.15h3.44v3.44h-3.44zM866.75 833.27h3.44v10.31h-3.44zM870.19 816.09h3.44v17.19h-3.44zM873.62 819.52h3.44v10.31h-3.44zM877.06 829.84h3.44v3.44h-3.44zM880.50 826.40h3.44v3.44h-3.44zM883.94 822.96h3.44v10.31h-3.44zM887.38 805.77h3.44v17.19h-3.44zM890.81 816.09h3.44v27.50h-3.44zM894.25 843.59h3.44v3.44h-3.44zM897.69 843.59h3.44v3.44h-3.44zM901.12 843.59h3.44v3.44h-3.44zM904.56 840.15h3.44v6.88h-3.44zM908.00 836.71h3.44v6.88h-3.44zM911.44 843.59h3.44v3.44h-3.44zM914.88 840.15h3.44v3.44h-3.44zM918.31 840.15h3.44v6.88h-3.44zM921.75 843.59h3.44v3.44h-3.44zM925.19 836.71h3.44v10.31h-3.44zM928.62 840.15h3.44v3.44h-3.44zM932.06 840.15h3.44v3.44h-3.44zM935.50 840.15h3.44v3.44h-3.44zM938.94 836.71h3.44v3.44h-3.44zM942.38 833.27h3.44v3.44h-3.44zM945.81 812.65h3.44v24.06h-3.44zM949.25 826.40h3.44v6.88h-3.44zM952.69 833.27h3.44v6.88h-3.44zM956.12 840.15h3.44v6.88h-3.44zM959.56 843.59h3.44v3.44h-3.44zM963.00 843.59h3.44v3.44h-3.44zM966.44 840.15h3.44v6.88h-3.44zM969.88 840.15h3.44v6.88h-3.44zM973.31 836.71h3.44v3.44h-3.44zM976.75 833.27h3.44v3.44h-3.44zM980.19 836.71h3.44v3.44h-3.44zM983.62 819.52h3.44v17.19h-3.44zM987.06 809.21h3.44v13.75h-3.44zM990.50 819.52h3.44v3.44h-3.44zM993.94 819.52h3.44v20.62h-3.44zM997.38 840.15h3.44v3.44h-3.44zM1000.81 840.15h3.44v6.88h-3.44zM1004.25 840.15h3.44v3.44h-3.44zM1007.69 802.34h3.44v37.81h-3.44zM1011.12 792.02h3.44v17.19h-3.44zM1014.56 809.21h3.44v3.44h-3.44zM1018.00 809.21h3.44v30.94h-3.44zM1021.44 833.27h3.44v3.44h-3.44zM1024.88 829.84h3.44v6.88h-3.44zM1028.31 836.71h3.44v3.44h-3.44zM1031.75 836.71h3.44v3.44h-3.44zM1035.19 836.71h3.44v3.44h-3.44zM1038.62 833.27h3.44v3.44h-3.44zM1042.06 833.27h3.44v3.44h-3.44zM1045.50 795.46h3.44v41.25h-3.44zM1048.94 795.46h3.44v3.44h-3.44zM1052.38 764.52h3.44v37.81h-3.44zM1055.81 802.34h3.44v37.81h-3.44zM1059.25 840.15h3.44v3.44h-3.44zM1062.69 843.59h3.44v3.44h-3.44zM1066.12 836.71h3.44v6.88h-3.44zM1069.56 833.27h3.44v3.44h-3.44zM1073.00 836.71h3.44v3.44h-3.44zM1076.44 840.15h3.44v6.88h-3.44zM1079.88 847.02h3.44v3.44h-3.44zM1083.31 843.59h3.44v3.44h-3.44zM1086.75 843.59h3.44v3.44h-3.44zM1090.19 843.59h3.44v3.44h-3.44zM1093.62 840.15h3.44v3.44h-3.44zM1097.06 843.59h3.44v3.44h-3.44zM1100.50 843.59h3.44v3.44h-3.44zM1103.94 840.15h3.44v3.44h-3.44zM1107.38 843.59h3.44v3.44h-3.44zM1110.81 843.59h3.44v3.44h-3.44zM1114.25 840.15h3.44v3.44h-3.44zM1117.69 836.71h3.44v3.44h-3.44zM1121.12 836.71h3.44v3.44h-3.44zM1124.56 836.71h3.44v3.44h-3.44zM1128.00 833.27h3.44v3.44h-3.44zM1131.44 833.27h3.44v3.44h-3.44zM1134.88 826.40h3.44v10.31h-3.44zM1138.31 826.40h3.44v3.44h-3.44zM1141.75 819.52h3.44v6.88h-3.44zM1145.19 826.40h3.44v10.31h-3.44zM1148.62 836.71h3.44v3.44h-3.44zM1152.06 829.84h3.44v6.88h-3.44zM1155.50 836.71h3.44v3.44h-3.44zM1158.94 819.52h3.44v17.19h-3.44zM1162.38 822.96h3.44v13.75h-3.44zM1165.81 833.27h3.44v3.44h-3.44zM1169.25 833.27h3.44v3.44h-3.44zM1172.69 833.27h3.44v6.88h-3.44zM1176.12 840.15h3.44v3.44h-3.44zM1179.56 843.59h3.44v3.44h-3.44zM1183.00 840.15h3.44v3.44h-3.44zM1186.44 840.15h3.44v3.44h-3.44zM1189.88 833.27h3.44v10.31h-3.44zM1193.31 829.84h3.44v6.88h-3.44zM1196.75 836.71h3.44v3.44h-3.44zM1200.19 833.27h3.44v6.88h-3.44zM1203.62 836.71h3.44v3.44h-3.44zM1207.06 833.27h3.44v3.44h-3.44zM1210.50 836.71h3.44v6.88h-3.44zM1213.94 840.15h3.44v3.44h-3.44zM1217.38 833.27h3.44v6.88h-3.44zM1220.81 822.96h3.44v13.75h-3.44zM1224.25 829.84h3.44v6.88h-3.44zM1227.69 836.71h3.44v3.44h-3.44zM1231.12 836.71h3.44v3.44h-3.44zM1234.56 840.15h3.44v3.44h-3.44zM1238.00 840.15h3.44v3.44h-3.44zM1241.44 843.59h3.44v3.44h-3.44zM1244.88 843.59h3.44v3.44h-3.44zM1248.31 843.59h3.44v3.44h-3.44zM1251.75 840.15h3.44v6.88h-3.44zM1255.19 843.59h3.44v3.44h-3.44zM1258.62 840.15h3.44v3.44h-3.44zM1262.06 840.15h3.44v3.44h-3.44zM1265.50 843.59h3.44v3.44h-3.44zM1268.94 840.15h3.44v3.44h-3.44zM1272.38 836.71h3.44v6.88h-3.44zM1275.81 826.40h3.44v13.75h-3.44zM1279.25 792.02h3.44v34.38h-3.44zM1282.69 798.90h3.44v24.06h-3.44zM1286.12 819.52h3.44v20.62h-3.44zM1289.56 836.71h3.44v3.44h-3.44zM1293.00 836.71h3.44v3.44h-3.44zM1296.44 833.27h3.44v6.88h-3.44zM1299.88 833.27h3.44v6.88h-3.44zM1303.31 829.84h3.44v3.44h-3.44zM1306.75 809.21h3.44v20.62h-3.44zM1310.19 819.52h3.44v6.88h-3.44zM1313.62 826.40h3.44v10.31h-3.44zM1317.06 836.71h3.44v3.44h-3.44zM1320.50 833.27h3.44v3.44h-3.44zM1323.94 829.84h3.44v3.44h-3.44zM1327.38 833.27h3.44v3.44h-3.44zM1330.81 833.27h3.44v6.88h-3.44zM1334.25 829.84h3.44v3.44h-3.44zM1337.69 829.84h3.44v6.88h-3.44zM1341.12 829.84h3.44v3.44h-3.44zM1344.56 826.40h3.44v3.44h-3.44zM1348.00 829.84h3.44v6.88h-3.44zM1351.44 836.71h3.44v3.44h-3.44zM1354.88 829.84h3.44v6.88h-3.44zM1358.31 836.71h3.44v3.44h-3.44zM1361.75 836.71h3.44v3.44h-3.44zM1365.19 833.27h3.44v3.44h-3.44zM1368.62 833.27h3.44v3.44h-3.44zM1372.06 829.84h3.44v3.44h-3.44zM1375.50 822.96h3.44v6.88h-3.44zM1378.94 826.40h3.44v10.31h-3.44zM1382.38 836.71h3.44v3.44h-3.44zM1385.81 836.71h3.44v3.44h-3.44zM1389.25 836.71h3.44v3.44h-3.44zM1392.69 836.71h3.44v6.88h-3.44zM1396.12 836.71h3.44v3.44h-3.44zM1399.56 840.15h3.44v6.88h-3.44zM1403.00 840.15h3.44v3.44h-3.44zM1406.44 843.59h3.44v3.44h-3.44zM1409.88 843.59h3.44v3.44h-3.44zM1413.31 836.71h3.44v6.88h-3.44zM1416.75 836.71h3.44v3.44h-3.44zM1420.19 836.71h3.44v3.44h-3.44zM1423.62 840.15h3.44v3.44h-3.44zM1427.06 843.59h3.44v6.88h-3.44zM1430.50 843.59h3.44v3.44h-3.44zM1433.94 847.02h3.44v3.44h-3.44zM1437.38 843.59h3.44v3.44h-3.44zM1440.81 847.02h3.44v3.44h-3.44zM1444.25 843.59h3.44v3.44h-3.44zM1447.69 843.59h3.44v3.44h-3.44zM1451.12 843.59h3.44v3.44h-3.44zM1454.56 840.15h3.44v3.44h-3.44zM1458.00 819.52h3.44v24.06h-3.44zM1461.44 819.52h3.44v3.44h-3.44zM1464.88 816.09h3.44v3.44h-3.44zM1468.31 812.65h3.44v17.19h-3.44zM1471.75 809.21h3.44v20.62h-3.44zM1475.19 805.77h3.44v6.88h-3.44zM1478.62 795.46h3.44v34.38h-3.44zM1482.06 826.40h3.44v3.44h-3.44zM1485.50 826.40h3.44v17.19h-3.44zM1488.94 840.15h3.44v3.44h-3.44zM1492.38 843.59h3.44v3.44h-3.44zM1495.81 847.02h3.44v3.44h-3.44zM1499.25 840.15h3.44v6.88h-3.44zM1502.69 840.15h3.44v3.44h-3.44zM1506.12 840.15h3.44v6.88h-3.44zM1509.56 843.59h3.44v3.44h-3.44zM1513.00 843.59h3.44v3.44h-3.44zM1516.44 843.59h3.44v3.44h-3.44zM1519.88 840.15h3.44v3.44h-3.44zM1523.31 833.27h3.44v6.88h-3.44zM1526.75 836.71h3.44v3.44h-3.44zM1530.19 840.15h3.44v6.88h-3.44zM1533.62 843.59h3.44v3.44h-3.44zM1537.06 843.59h3.44v3.44h-3.44zM1540.50 840.15h3.44v6.88h-3.44zM1543.94 840.15h3.44v3.44h-3.44zM1547.38 840.15h3.44v3.44h-3.44zM1550.81 840.15h3.44v6.88h-3.44zM1554.25 843.59h3.44v3.44h-3.44zM1557.69 840.15h3.44v6.88h-3.44zM1561.12 843.59h3.44v3.44h-3.44zM1564.56 843.59h3.44v3.44h-3.44zM1568.00 843.59h3.44v3.44h-3.44zM1571.44 843.59h3.44v3.44h-3.44zM1574.88 840.15h3.44v6.88h-3.44zM1578.31 840.15h3.44v3.44h-3.44zM1581.75 840.15h3.44v3.44h-3.44zM1585.19 836.71h3.44v6.88h-3.44zM1588.62 840.15h3.44v3.44h-3.44zM1592.06 840.15h3.44v3.44h-3.44zM1595.50 840.15h3.44v6.88h-3.44zM1598.94 840.15h3.44v6.88h-3.44zM1602.38 840.15h3.44v3.44h-3.44zM1605.81 840.15h3.44v6.88h-3.44zM1609.25 843.59h3.44v3.44h-3.44zM1612.69 843.59h3.44v3.44h-3.44zM1616.12 843.59h3.44v3.44h-3.44zM1619.56 843.59h3.44v3.44h-3.44zM1623.00 843.59h3.44v3.44h-3.44zM1626.44 843.59h3.44v6.88h-3.44zM1629.88 847.02h3.44v3.44h-3.44zM1633.31 843.59h3.44v6.88h-3.44zM1636.75 843.59h3.44v6.88h-3.44zM1640.19 843.59h3.44v3.44h-3.44zM1643.62 843.59h3.44v3.44h-3.44zM1647.06 840.15h3.44v6.88h-3.44zM1650.50 833.27h3.44v6.88h-3.44zM1653.94 836.71h3.44v3.44h-3.44zM1657.38 840.15h3.44v3.44h-3.44zM1660.81 843.59h3.44v3.44h-3.44zM1664.25 843.59h3.44v6.88h-3.44zM1667.69 843.59h3.44v3.44h-3.44zM1671.12 843.59h3.44v3.44h-3.44zM1674.56 840.15h3.44v3.44h-3.44zM1678.00 840.15h3.44v6.88h-3.44zM1681.44 840.15h3.44v6.88h-3.44zM1684.88 843.59h3.44v6.88h-3.44zM1688.31 843.59h3.44v6.88h-3.44zM1691.75 843.59h3.44v3.44h-3.44zM1695.19 843.59h3.44v3.44h-3.44zM1698.62 829.84h3.44v13.75h-3.44zM1702.06 840.15h3.44v3.44h-3.44zM1705.50 840.15h3.44v3.44h-3.44zM1708.94 840.15h3.44v10.31h-3.44zM1712.38 847.02h3.44v3.44h-3.44zM1715.81 843.59h3.44v6.88h-3.44zM1719.25 847.02h3.44v3.44h-3.44zM1722.69 843.59h3.44v6.88h-3.44zM1726.12 847.02h3.44v3.44h-3.44zM1729.56 843.59h3.44v6.88h-3.44zM1733.00 843.59h3.44v3.44h-3.44zM1736.44 843.59h3.44v3.44h-3.44zM1739.88 843.59h3.44v6.88h-3.44zM1743.31 847.02h3.44v3.44h-3.44zM1746.75 840.15h3.44v10.31h-3.44zM1750.19 829.84h3.44v13.75h-3.44zM1753.62 836.71h3.44v3.44h-3.44zM1757.06 836.71h3.44v3.44h-3.44zM1760.50 836.71h3.44v10.31h-3.44zM1763.94 843.59h3.44v3.44h-3.44zM1767.38 847.02h3.44v3.44h-3.44zM1770.81 843.59h3.44v3.44h-3.44zM1774.25 843.59h3.44v3.44h-3.44zM1777.69 840.15h3.44v6.88h-3.44zM1781.12 833.27h3.44v10.31h-3.44zM1784.56 836.71h3.44v6.88h-3.44zM1788.00 833.27h3.44v6.88h-3.44zM1791.44 840.15h3.44v3.44h-3.44zM1794.88 840.15h3.44v6.88h-3.44zM1798.31 847.02h3.44v3.44h-3.44zM1801.75 847.02h3.44v3.44h-3.44zM1805.19 843.59h3.44v6.88h-3.44zM1808.62 843.59h3.44v3.44h-3.44zM1812.06 843.59h3.44v6.88h-3.44zM1815.50 847.02h3.44v3.44h-3.44zM1818.94 847.02h3.44v3.44h-3.44zM1822.38 847.02h3.44v3.44h-3.44zM1825.81 847.02h3.44v3.44h-3.44zM1829.25 843.59h3.44v6.88h-3.44zM1832.69 843.59h3.44v3.44h-3.44zM1836.12 843.59h3.44v6.88h-3.44zM1839.56 836.71h3.44v13.75h-3.44zM1843.00 829.84h3.44v6.88h-3.44zM1846.44 833.27h3.44v10.31h-3.44zM1849.88 840.15h3.44v3.44h-3.44zM1853.31 840.15h3.44v6.88h-3.44zM1856.75 843.59h3.44v3.44h-3.44zM1860.19 843.59h3.44v6.88h-3.44zM1863.62 843.59h3.44v3.44h-3.44zM1867.06 843.59h3.44v3.44h-3.44zM1870.50 840.15h3.44v6.88h-3.44zM1873.94 843.59h3.44v3.44h-3.44zM1877.38 843.59h3.44v3.44h-3.44zM1880.81 843.59h3.44v3.44h-3.44zM1884.25 843.59h3.44v6.88h-3.44zM1887.69 843.59h3.44v6.88h-3.44zM1891.12 847.02h3.44v3.44h-3.44zM1894.56 847.02h3.44v3.44h-3.44zM1898.00 847.02h3.44v3.44h-3.44zM1901.44 847.02h3.44v3.44h-3.44zM1904.88 847.02h3.44v3.44h-3.44zM1908.31 847.02h3.44v3.44h-3.44zM1911.75 847.02h3.44v3.44h-3.44zM1915.19 847.02h3.44v3.44h-3.44zM1918.62 847.02h3.44v3.44h-3.44zM1922.06 847.02h3.44v3.44h-3.44zM1925.50 847.02h3.44v3.44h-3.44zM1928.94 847.02h3.44v3.44h-3.44zM1932.38 843.59h3.44v6.88h-3.44zM1935.81 847.02h3.44v3.44h-3.44zM1939.25 843.59h3.44v6.88h-3.44zM1942.69 843.59h3.44v3.44h-3.44zM1946.12 843.59h3.44v3.44h-3.44zM1949.56 843.59h3.44v3.44h-3.44zM1953.00 843.59h3.44v3.44h-3.44zM1956.44 847.02h3.44v3.44h-3.44zM1959.88 843.59h3.44v6.88h-3.44zM1963.31 843.59h3.44v3.44h-3.44zM1966.75 843.59h3.44v3.44h-3.44zM1970.19 847.02h3.44v3.44h-3.44zM1973.62 847.02h3.44v3.44h-3.44zM1977.06 847.02h3.44v3.44h-3.44zM1980.50 843.59h3.44v3.44h-3.44zM1983.94 843.59h3.44v3.44h-3.44z"/>
<g style="mix-blend-mode:multiply"><polygon fill="#e8861c" points="351.5,652.0 378.3,652.0 364.9,679.0"/></g><g style="mix-blend-mode:multiply"><polygon fill="#1890e6" points="354.9,652.0 381.7,652.0 368.3,679.0"/></g><polygon fill="#000" points="355.1,652.0 378.1,652.0 366.6,676.6"/>
<g style="mix-blend-mode:multiply"><polygon fill="#e8861c" points="481.1,139.5 507.9,139.5 494.5,166.5"/></g><g style="mix-blend-mode:multiply"><polygon fill="#1890e6" points="484.5,139.5 511.3,139.5 497.9,166.5"/></g><polygon fill="#000" points="484.7,139.5 507.7,139.5 496.2,164.1"/>
<g style="mix-blend-mode:multiply"><polygon fill="#e8861c" points="786.9,717.5 813.7,717.5 800.3,744.5"/></g><g style="mix-blend-mode:multiply"><polygon fill="#1890e6" points="790.3,717.5 817.1,717.5 803.7,744.5"/></g><polygon fill="#000" points="790.5,717.5 813.5,717.5 802.0,742.1"/>
<g style="mix-blend-mode:multiply"><polygon fill="#e8861c" points="858.8,768.4 885.6,768.4 872.2,795.4"/></g><g style="mix-blend-mode:multiply"><polygon fill="#1890e6" points="862.2,768.4 889.0,768.4 875.6,795.4"/></g><polygon fill="#000" points="862.4,768.4 885.4,768.4 873.9,793.0"/>
<g style="mix-blend-mode:multiply"><polygon fill="#e8861c" points="937.7,768.4 964.5,768.4 951.1,795.4"/></g><g style="mix-blend-mode:multiply"><polygon fill="#1890e6" points="941.1,768.4 967.9,768.4 954.5,795.4"/></g><polygon fill="#000" points="941.3,768.4 964.3,768.4 952.8,793.0"/>
<g style="mix-blend-mode:multiply"><polygon fill="#e8861c" points="1270.5,720.6 1297.3,720.6 1283.9,747.6"/></g><g style="mix-blend-mode:multiply"><polygon fill="#1890e6" points="1273.9,720.6 1300.7,720.6 1287.3,747.6"/></g><polygon fill="#000" points="1274.1,720.6 1297.1,720.6 1285.6,745.2"/>
<g style="mix-blend-mode:multiply"><polygon fill="#e8861c" points="1451.8,744.8 1478.6,744.8 1465.2,771.8"/></g><g style="mix-blend-mode:multiply"><polygon fill="#1890e6" points="1455.2,744.8 1482.0,744.8 1468.6,771.8"/></g><polygon fill="#000" points="1455.4,744.8 1478.4,744.8 1466.9,769.4"/>
<g style="mix-blend-mode:multiply"><polygon fill="#e8861c" points="1771.1,775.8 1797.9,775.8 1784.5,802.8"/></g><g style="mix-blend-mode:multiply"><polygon fill="#1890e6" points="1774.5,775.8 1801.3,775.8 1787.9,802.8"/></g><polygon fill="#000" points="1774.7,775.8 1797.7,775.8 1786.2,800.4"/>
<g style="mix-blend-mode:multiply"><polygon fill="#e8861c" points="549.1,57.8 562.8,44.3 576.4,57.8 562.8,71.3"/></g><g style="mix-blend-mode:multiply"><polygon fill="#1890e6" points="552.6,57.8 566.2,44.3 579.9,57.8 566.2,71.3"/></g><polygon fill="#000" points="552.8,57.8 564.5,45.4 576.2,57.8 564.5,70.2"/>
<g style="mix-blend-mode:multiply"><polygon fill="#e8861c" points="620.6,438.0 634.3,424.5 647.9,438.0 634.3,451.5"/></g><g style="mix-blend-mode:multiply"><polygon fill="#1890e6" points="624.1,438.0 637.7,424.5 651.4,438.0 637.7,451.5"/></g><polygon fill="#000" points="624.3,438.0 636.0,425.6 647.7,438.0 636.0,450.4"/>
<g style="mix-blend-mode:multiply"><polygon fill="#e8861c" points="790.1,682.2 803.8,668.7 817.4,682.2 803.8,695.7"/></g><g style="mix-blend-mode:multiply"><polygon fill="#1890e6" points="793.6,682.2 807.2,668.7 820.9,682.2 807.2,695.7"/></g><polygon fill="#000" points="793.8,682.2 805.5,669.8 817.2,682.2 805.5,694.6"/>
<g style="mix-blend-mode:multiply"><polygon fill="#e8861c" points="974.9,771.8 988.5,758.3 1002.1,771.8 988.5,785.3"/></g><g style="mix-blend-mode:multiply"><polygon fill="#1890e6" points="978.3,771.8 991.9,758.3 1005.6,771.8 991.9,785.3"/></g><polygon fill="#000" points="978.5,771.8 990.2,759.4 1001.9,771.8 990.2,784.2"/>
<g style="mix-blend-mode:multiply"><polygon fill="#e8861c" points="1005.9,747.7 1019.6,734.2 1033.2,747.7 1019.6,761.2"/></g><g style="mix-blend-mode:multiply"><polygon fill="#1890e6" points="1009.4,747.7 1023.0,734.2 1036.7,747.7 1023.0,761.2"/></g><polygon fill="#000" points="1009.6,747.7 1021.3,735.3 1033.0,747.7 1021.3,760.1"/>
<g style="mix-blend-mode:multiply"><polygon fill="#e8861c" points="1040.3,713.2 1054.0,699.7 1067.7,713.2 1054.0,726.7"/></g><g style="mix-blend-mode:multiply"><polygon fill="#1890e6" points="1043.8,713.2 1057.4,699.7 1071.1,713.2 1057.4,726.7"/></g><polygon fill="#000" points="1044.0,713.2 1055.7,700.8 1067.4,713.2 1055.7,725.6"/>
<g style="mix-blend-mode:multiply"><polygon fill="none" stroke-width="2.70" stroke-opacity="1.00" stroke-linejoin="miter" stroke="#e8861c" points="181.1,1183.6 193.5,1171.3 205.9,1183.6 193.5,1195.9"/></g><g style="mix-blend-mode:multiply"><polygon fill="none" stroke-width="2.70" stroke-opacity="1.00" stroke-linejoin="miter" stroke="#1890e6" points="184.3,1183.6 196.7,1171.3 209.1,1183.6 196.7,1195.9"/></g>
<g style="mix-blend-mode:multiply"><polygon fill="none" stroke-width="2.70" stroke-opacity="1.00" stroke-linejoin="miter" stroke="#e8861c" points="249.0,1150.0 261.4,1137.7 273.8,1150.0 261.4,1162.3"/></g><g style="mix-blend-mode:multiply"><polygon fill="none" stroke-width="2.70" stroke-opacity="1.00" stroke-linejoin="miter" stroke="#1890e6" points="252.2,1150.0 264.6,1137.7 277.0,1150.0 264.6,1162.3"/></g>
<g style="mix-blend-mode:multiply"><polygon fill="none" stroke-width="2.70" stroke-opacity="1.00" stroke-linejoin="miter" stroke="#e8861c" points="364.3,1163.0 376.7,1150.7 389.1,1163.0 376.7,1175.3"/></g><g style="mix-blend-mode:multiply"><polygon fill="none" stroke-width="2.70" stroke-opacity="1.00" stroke-linejoin="miter" stroke="#1890e6" points="367.5,1163.0 379.9,1150.7 392.3,1163.0 379.9,1175.3"/></g>
<g style="mix-blend-mode:multiply"><polygon fill="none" stroke-width="2.70" stroke-opacity="1.00" stroke-linejoin="miter" stroke="#e8861c" points="536.3,1231.5 548.7,1219.2 561.1,1231.5 548.7,1243.8"/></g><g style="mix-blend-mode:multiply"><polygon fill="none" stroke-width="2.70" stroke-opacity="1.00" stroke-linejoin="miter" stroke="#1890e6" points="539.5,1231.5 551.9,1219.2 564.3,1231.5 551.9,1243.8"/></g>
<g style="mix-blend-mode:multiply"><polygon fill="none" stroke-width="2.70" stroke-opacity="1.00" stroke-linejoin="miter" stroke="#e8861c" points="585.4,1255.6 597.8,1243.3 610.2,1255.6 597.8,1267.9"/></g><g style="mix-blend-mode:multiply"><polygon fill="none" stroke-width="2.70" stroke-opacity="1.00" stroke-linejoin="miter" stroke="#1890e6" points="588.6,1255.6 601.0,1243.3 613.4,1255.6 601.0,1267.9"/></g>
<g style="mix-blend-mode:multiply"><polygon fill="none" stroke-width="2.70" stroke-opacity="1.00" stroke-linejoin="miter" stroke="#e8861c" points="654.3,1293.6 666.7,1281.3 679.1,1293.6 666.7,1305.9"/></g><g style="mix-blend-mode:multiply"><polygon fill="none" stroke-width="2.70" stroke-opacity="1.00" stroke-linejoin="miter" stroke="#1890e6" points="657.5,1293.6 669.9,1281.3 682.3,1293.6 669.9,1305.9"/></g>
<g style="mix-blend-mode:multiply"><polygon fill="none" stroke-width="2.70" stroke-opacity="1.00" stroke-linejoin="miter" stroke="#e8861c" points="685.0,1235.0 697.4,1222.7 709.8,1235.0 697.4,1247.3"/></g><g style="mix-blend-mode:multiply"><polygon fill="none" stroke-width="2.70" stroke-opacity="1.00" stroke-linejoin="miter" stroke="#1890e6" points="688.2,1235.0 700.6,1222.7 713.0,1235.0 700.6,1247.3"/></g>
<g style="mix-blend-mode:multiply"><polygon fill="none" stroke-width="2.70" stroke-opacity="1.00" stroke-linejoin="miter" stroke="#e8861c" points="750.0,1238.4 762.4,1226.1 774.8,1238.4 762.4,1250.7"/></g><g style="mix-blend-mode:multiply"><polygon fill="none" stroke-width="2.70" stroke-opacity="1.00" stroke-linejoin="miter" stroke="#1890e6" points="753.2,1238.4 765.6,1226.1 778.0,1238.4 765.6,1250.7"/></g>
<g style="mix-blend-mode:multiply"><polygon fill="none" stroke-width="2.70" stroke-opacity="1.00" stroke-linejoin="miter" stroke="#e8861c" points="818.6,1300.4 831.0,1288.1 843.4,1300.4 831.0,1312.7"/></g><g style="mix-blend-mode:multiply"><polygon fill="none" stroke-width="2.70" stroke-opacity="1.00" stroke-linejoin="miter" stroke="#1890e6" points="821.8,1300.4 834.2,1288.1 846.6,1300.4 834.2,1312.7"/></g>
<g style="mix-blend-mode:multiply"><polygon fill="none" stroke-width="2.70" stroke-opacity="1.00" stroke-linejoin="miter" stroke="#e8861c" points="1295.6,1334.9 1308.0,1322.6 1320.4,1334.9 1308.0,1347.2"/></g><g style="mix-blend-mode:multiply"><polygon fill="none" stroke-width="2.70" stroke-opacity="1.00" stroke-linejoin="miter" stroke="#1890e6" points="1298.8,1334.9 1311.2,1322.6 1323.6,1334.9 1311.2,1347.2"/></g>
<g style="mix-blend-mode:multiply"><polygon fill="none" stroke-width="2.40" stroke-opacity="0.50" stroke-linejoin="bevel" stroke="#e8861c" points="460.7,963.7 464.5,975.4 476.9,975.4 466.9,982.7 470.7,994.5 460.7,987.2 450.7,994.5 454.5,982.7 444.5,975.4 456.9,975.4"/></g><g style="mix-blend-mode:multiply"><polygon fill="none" stroke-width="2.40" stroke-opacity="0.50" stroke-linejoin="bevel" stroke="#1890e6" points="463.7,963.7 467.5,975.4 479.9,975.4 469.9,982.7 473.7,994.5 463.7,987.2 453.7,994.5 457.5,982.7 447.5,975.4 459.9,975.4"/></g><path fill="none" stroke="#000" stroke-width="3.44" d="M446.6 975.4H457.6M466.8 975.4H477.8"/><rect fill="#000" x="460.5" y="984.0" width="3.44" height="3.1"/><path fill="none" stroke="#444" stroke-opacity="0.55" stroke-width="3" d="M455.7 990.9l3.2 -2.4M468.7 990.9l-3.2 -2.4"/>
<g style="mix-blend-mode:multiply"><polygon fill="none" stroke-width="2.40" stroke-opacity="0.50" stroke-linejoin="bevel" stroke="#e8861c" points="783.3,1200.7 787.1,1212.4 799.5,1212.4 789.5,1219.7 793.3,1231.5 783.3,1224.2 773.3,1231.5 777.1,1219.7 767.1,1212.4 779.5,1212.4"/></g><g style="mix-blend-mode:multiply"><polygon fill="none" stroke-width="2.40" stroke-opacity="0.50" stroke-linejoin="bevel" stroke="#1890e6" points="786.3,1200.7 790.1,1212.4 802.5,1212.4 792.5,1219.7 796.3,1231.5 786.3,1224.2 776.3,1231.5 780.1,1219.7 770.1,1212.4 782.5,1212.4"/></g><path fill="none" stroke="#000" stroke-width="3.44" d="M769.2 1212.4H780.2M789.4 1212.4H800.4"/><rect fill="#000" x="783.1" y="1221.0" width="3.44" height="3.1"/><path fill="none" stroke="#444" stroke-opacity="0.55" stroke-width="3" d="M778.3 1227.9l3.2 -2.4M791.3 1227.9l-3.2 -2.4"/>
<g style="mix-blend-mode:multiply"><polygon fill="none" stroke-width="2.40" stroke-opacity="0.50" stroke-linejoin="bevel" stroke="#e8861c" points="879.3,1148.7 883.1,1160.4 895.5,1160.4 885.5,1167.7 889.3,1179.5 879.3,1172.2 869.3,1179.5 873.1,1167.7 863.1,1160.4 875.5,1160.4"/></g><g style="mix-blend-mode:multiply"><polygon fill="none" stroke-width="2.40" stroke-opacity="0.50" stroke-linejoin="bevel" stroke="#1890e6" points="882.3,1148.7 886.1,1160.4 898.5,1160.4 888.5,1167.7 892.3,1179.5 882.3,1172.2 872.3,1179.5 876.1,1167.7 866.1,1160.4 878.5,1160.4"/></g><path fill="none" stroke="#000" stroke-width="3.44" d="M865.2 1160.4H876.2M885.4 1160.4H896.4"/><rect fill="#000" x="879.1" y="1169.0" width="3.44" height="3.1"/><path fill="none" stroke="#444" stroke-opacity="0.55" stroke-width="3" d="M874.3 1175.9l3.2 -2.4M887.3 1175.9l-3.2 -2.4"/>
<g style="mix-blend-mode:multiply"><polygon fill="none" stroke-width="2.40" stroke-opacity="0.50" stroke-linejoin="bevel" stroke="#e8861c" points="971.8,1194.2 975.6,1205.9 988.0,1205.9 978.0,1213.2 981.8,1225.0 971.8,1217.7 961.8,1225.0 965.6,1213.2 955.6,1205.9 968.0,1205.9"/></g><g style="mix-blend-mode:multiply"><polygon fill="none" stroke-width="2.40" stroke-opacity="0.50" stroke-linejoin="bevel" stroke="#1890e6" points="974.8,1194.2 978.6,1205.9 991.0,1205.9 981.0,1213.2 984.8,1225.0 974.8,1217.7 964.8,1225.0 968.6,1213.2 958.6,1205.9 971.0,1205.9"/></g><path fill="none" stroke="#000" stroke-width="3.44" d="M957.7 1205.9H968.7M977.9 1205.9H988.9"/><rect fill="#000" x="971.6" y="1214.5" width="3.44" height="3.1"/><path fill="none" stroke="#444" stroke-opacity="0.55" stroke-width="3" d="M966.8 1221.4l3.2 -2.4M979.8 1221.4l-3.2 -2.4"/>
<g style="mix-blend-mode:multiply"><polygon fill="none" stroke-width="2.40" stroke-opacity="0.50" stroke-linejoin="bevel" stroke="#e8861c" points="1078.5,1214.5 1082.3,1226.2 1094.7,1226.2 1084.7,1233.5 1088.5,1245.3 1078.5,1238.0 1068.5,1245.3 1072.3,1233.5 1062.3,1226.2 1074.7,1226.2"/></g><g style="mix-blend-mode:multiply"><polygon fill="none" stroke-width="2.40" stroke-opacity="0.50" stroke-linejoin="bevel" stroke="#1890e6" points="1081.5,1214.5 1085.3,1226.2 1097.7,1226.2 1087.7,1233.5 1091.5,1245.3 1081.5,1238.0 1071.5,1245.3 1075.3,1233.5 1065.3,1226.2 1077.7,1226.2"/></g><path fill="none" stroke="#000" stroke-width="3.44" d="M1064.4 1226.2H1075.4M1084.6 1226.2H1095.6"/><rect fill="#000" x="1078.3" y="1234.8" width="3.44" height="3.1"/><path fill="none" stroke="#444" stroke-opacity="0.55" stroke-width="3" d="M1073.5 1241.7l3.2 -2.4M1086.5 1241.7l-3.2 -2.4"/>
<g style="mix-blend-mode:multiply"><polygon fill="none" stroke-width="2.40" stroke-opacity="0.50" stroke-linejoin="bevel" stroke="#e8861c" points="1143.5,1036.2 1147.3,1047.9 1159.7,1047.9 1149.7,1055.2 1153.5,1067.0 1143.5,1059.7 1133.5,1067.0 1137.3,1055.2 1127.3,1047.9 1139.7,1047.9"/></g><g style="mix-blend-mode:multiply"><polygon fill="none" stroke-width="2.40" stroke-opacity="0.50" stroke-linejoin="bevel" stroke="#1890e6" points="1146.5,1036.2 1150.3,1047.9 1162.7,1047.9 1152.7,1055.2 1156.5,1067.0 1146.5,1059.7 1136.5,1067.0 1140.3,1055.2 1130.3,1047.9 1142.7,1047.9"/></g><path fill="none" stroke="#000" stroke-width="3.44" d="M1129.4 1047.9H1140.4M1149.6 1047.9H1160.6"/><rect fill="#000" x="1143.3" y="1056.5" width="3.44" height="3.1"/><path fill="none" stroke="#444" stroke-opacity="0.55" stroke-width="3" d="M1138.5 1063.4l3.2 -2.4M1151.5 1063.4l-3.2 -2.4"/>
<g style="mix-blend-mode:multiply"><polygon fill="none" stroke-width="2.40" stroke-opacity="0.50" stroke-linejoin="bevel" stroke="#e8861c" points="1229.1,1324.3 1232.9,1336.0 1245.3,1336.0 1235.3,1343.3 1239.1,1355.1 1229.1,1347.8 1219.1,1355.1 1222.9,1343.3 1212.9,1336.0 1225.3,1336.0"/></g><g style="mix-blend-mode:multiply"><polygon fill="none" stroke-width="2.40" stroke-opacity="0.50" stroke-linejoin="bevel" stroke="#1890e6" points="1232.1,1324.3 1235.9,1336.0 1248.3,1336.0 1238.3,1343.3 1242.1,1355.1 1232.1,1347.8 1222.1,1355.1 1225.9,1343.3 1215.9,1336.0 1228.3,1336.0"/></g><path fill="none" stroke="#000" stroke-width="3.44" d="M1215.0 1336.0H1226.0M1235.2 1336.0H1246.2"/><rect fill="#000" x="1228.9" y="1344.6" width="3.44" height="3.1"/><path fill="none" stroke="#444" stroke-opacity="0.55" stroke-width="3" d="M1224.1 1351.5l3.2 -2.4M1237.1 1351.5l-3.2 -2.4"/>
<g style="mix-blend-mode:multiply"><polygon fill="none" stroke-width="2.40" stroke-opacity="0.50" stroke-linejoin="bevel" stroke="#e8861c" points="1424.5,1276.3 1428.3,1288.0 1440.7,1288.0 1430.7,1295.3 1434.5,1307.1 1424.5,1299.8 1414.5,1307.1 1418.3,1295.3 1408.3,1288.0 1420.7,1288.0"/></g><g style="mix-blend-mode:multiply"><polygon fill="none" stroke-width="2.40" stroke-opacity="0.50" stroke-linejoin="bevel" stroke="#1890e6" points="1427.5,1276.3 1431.3,1288.0 1443.7,1288.0 1433.7,1295.3 1437.5,1307.1 1427.5,1299.8 1417.5,1307.1 1421.3,1295.3 1411.3,1288.0 1423.7,1288.0"/></g><path fill="none" stroke="#000" stroke-width="3.44" d="M1410.4 1288.0H1421.4M1430.6 1288.0H1441.6"/><rect fill="#000" x="1424.3" y="1296.6" width="3.44" height="3.1"/><path fill="none" stroke="#444" stroke-opacity="0.55" stroke-width="3" d="M1419.5 1303.5l3.2 -2.4M1432.5 1303.5l-3.2 -2.4"/>
<g style="mix-blend-mode:multiply"><polygon fill="none" stroke-width="2.40" stroke-opacity="0.50" stroke-linejoin="bevel" stroke="#e8861c" points="1661.3,1317.4 1665.1,1329.1 1677.5,1329.1 1667.5,1336.4 1671.3,1348.2 1661.3,1340.9 1651.3,1348.2 1655.1,1336.4 1645.1,1329.1 1657.5,1329.1"/></g><g style="mix-blend-mode:multiply"><polygon fill="none" stroke-width="2.40" stroke-opacity="0.50" stroke-linejoin="bevel" stroke="#1890e6" points="1664.3,1317.4 1668.1,1329.1 1680.5,1329.1 1670.5,1336.4 1674.3,1348.2 1664.3,1340.9 1654.3,1348.2 1658.1,1336.4 1648.1,1329.1 1660.5,1329.1"/></g><path fill="none" stroke="#000" stroke-width="3.44" d="M1647.2 1329.1H1658.2M1667.4 1329.1H1678.4"/><rect fill="#000" x="1661.1" y="1337.7" width="3.44" height="3.1"/><path fill="none" stroke="#444" stroke-opacity="0.55" stroke-width="3" d="M1656.3 1344.6l3.2 -2.4M1669.3 1344.6l-3.2 -2.4"/>
<g fill="#000">
<text class="tk" x="103.2" y="1527">10</text>
<text class="tk" x="339.0" y="1527">20</text>
<text class="tk" x="574.8" y="1527">30</text>
<text class="tk" x="810.5" y="1527">40</text>
<text class="tk" x="1046.2" y="1527">50</text>
<text class="tk" x="1282.0" y="1527">60</text>
<text class="tk" x="1517.8" y="1527">70</text>
<text class="tk" x="1753.5" y="1527">80</text>
<text class="tk" x="1989.2" y="1527">90</text>
</g>
<text class="ax" x="967" y="1598.9" textLength="70" lengthAdjust="spacingAndGlyphs">2θ</text>
<text class="ax" x="1051.5" y="1598.9" textLength="23.5" lengthAdjust="spacingAndGlyphs">(</text>
<text class="ax" x="1076.3" y="1581.4" style="font-size:50px">o</text>
<text class="ax" x="1101" y="1598.9" textLength="23.5" lengthAdjust="spacingAndGlyphs">)</text>
<text class="ax" transform="translate(62.4,1027.5) rotate(-90)" textLength="466" lengthAdjust="spacing">Intensity (A. U.)</text>
</svg></body></html>
